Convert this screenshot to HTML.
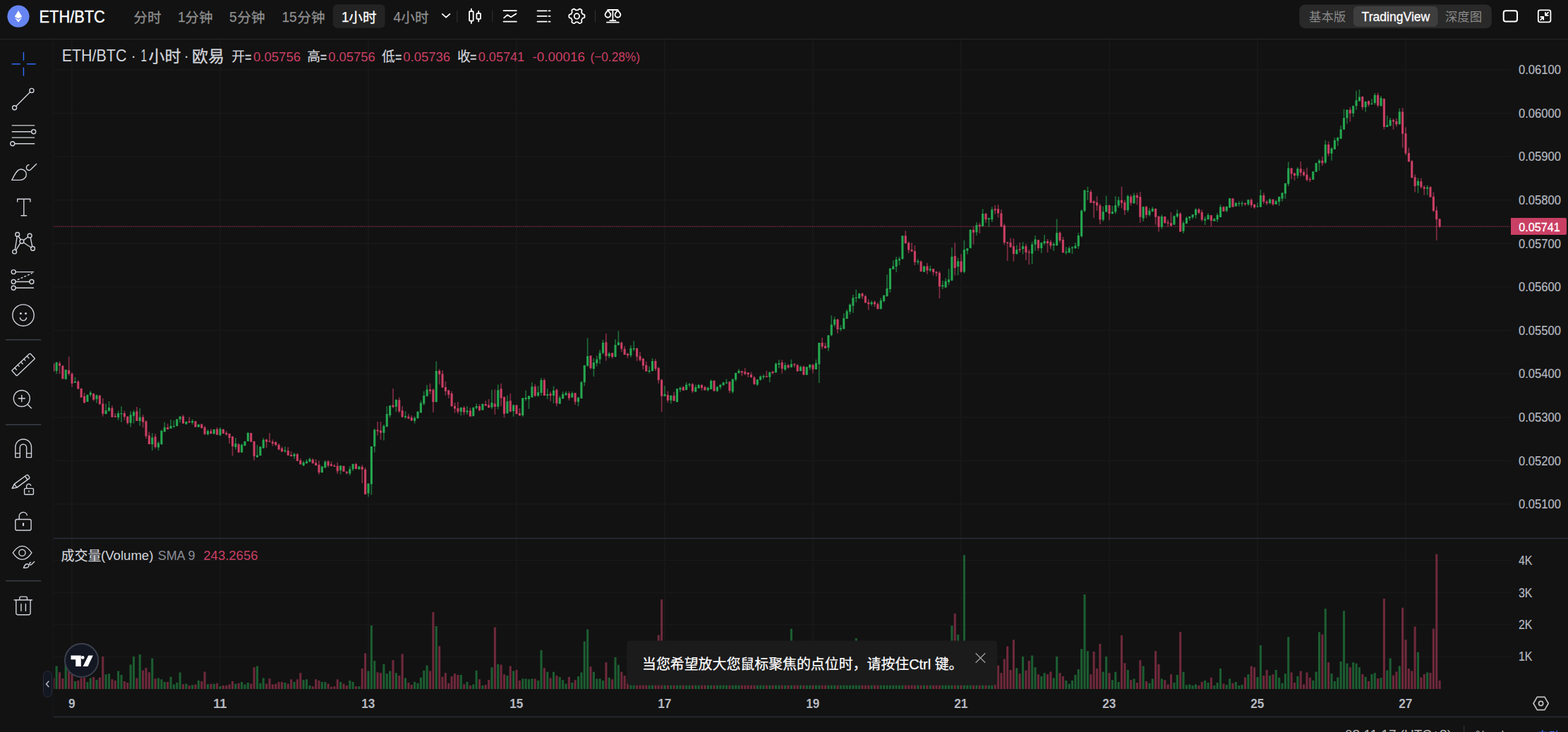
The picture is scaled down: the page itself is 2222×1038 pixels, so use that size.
<!DOCTYPE html>
<html lang="zh"><head><meta charset="utf-8"><title>ETH/BTC</title>
<style>
html,body{margin:0;padding:0;background:#121212;overflow:hidden}
body{width:2222px;height:1038px;position:relative}
svg{position:absolute;left:0;top:0;display:block}
svg text{font-family:"Liberation Sans","Noto Sans CJK SC",sans-serif;white-space:pre}
</style></head><body>
<svg width="2222" height="1038" viewBox="0 0 2222 1038" role="img" aria-label="ETH/BTC 1小时 TradingView chart">
<rect width="2222" height="1038" fill="#121212"/>
<rect x="75.5" y="714.30" width="2065.5" height="1.2" fill="#1b1b1b"/>
<rect x="75.5" y="652.70" width="2065.5" height="1.2" fill="#1b1b1b"/>
<rect x="75.5" y="591.10" width="2065.5" height="1.2" fill="#1b1b1b"/>
<rect x="75.5" y="529.50" width="2065.5" height="1.2" fill="#1b1b1b"/>
<rect x="75.5" y="467.90" width="2065.5" height="1.2" fill="#1b1b1b"/>
<rect x="75.5" y="406.30" width="2065.5" height="1.2" fill="#1b1b1b"/>
<rect x="75.5" y="344.70" width="2065.5" height="1.2" fill="#1b1b1b"/>
<rect x="75.5" y="283.10" width="2065.5" height="1.2" fill="#1b1b1b"/>
<rect x="75.5" y="221.50" width="2065.5" height="1.2" fill="#1b1b1b"/>
<rect x="75.5" y="159.90" width="2065.5" height="1.2" fill="#1b1b1b"/>
<rect x="75.5" y="98.30" width="2065.5" height="1.2" fill="#1b1b1b"/>
<rect x="75.5" y="793.90" width="2065.5" height="1.2" fill="#1b1b1b"/>
<rect x="75.5" y="839.70" width="2065.5" height="1.2" fill="#1b1b1b"/>
<rect x="75.5" y="885.10" width="2065.5" height="1.2" fill="#1b1b1b"/>
<rect x="75.5" y="930.60" width="2065.5" height="1.2" fill="#1b1b1b"/>
<rect x="100.9" y="56" width="2" height="706" fill="#181818"/>
<rect x="100.9" y="764" width="2" height="214" fill="#181818"/>
<rect x="310.9" y="56" width="2" height="706" fill="#181818"/>
<rect x="310.9" y="764" width="2" height="214" fill="#181818"/>
<rect x="520.9" y="56" width="2" height="706" fill="#181818"/>
<rect x="520.9" y="764" width="2" height="214" fill="#181818"/>
<rect x="730.9" y="56" width="2" height="706" fill="#181818"/>
<rect x="730.9" y="764" width="2" height="214" fill="#181818"/>
<rect x="940.9" y="56" width="2" height="706" fill="#181818"/>
<rect x="940.9" y="764" width="2" height="214" fill="#181818"/>
<rect x="1150.9" y="56" width="2" height="706" fill="#181818"/>
<rect x="1150.9" y="764" width="2" height="214" fill="#181818"/>
<rect x="1360.9" y="56" width="2" height="706" fill="#181818"/>
<rect x="1360.9" y="764" width="2" height="214" fill="#181818"/>
<rect x="1570.9" y="56" width="2" height="706" fill="#181818"/>
<rect x="1570.9" y="764" width="2" height="214" fill="#181818"/>
<rect x="1780.9" y="56" width="2" height="706" fill="#181818"/>
<rect x="1780.9" y="764" width="2" height="214" fill="#181818"/>
<rect x="1990.9" y="56" width="2" height="706" fill="#181818"/>
<rect x="1990.9" y="764" width="2" height="214" fill="#181818"/>
<line x1="75.5" y1="321.2" x2="2139" y2="321.2" stroke="#ca3f64" stroke-width="1.5" stroke-dasharray="1.5 1.25" opacity="0.55"/>
<clipPath id="pane"><rect x="75.5" y="56" width="2065.5" height="925"/></clipPath>
<g clip-path="url(#pane)">
<path d="M78.58 944.4h3.1V977h-3.1zM91.70 940.8h3.1V977h-3.1zM104.83 966.1h3.1V977h-3.1zM122.33 967.2h3.1V977h-3.1zM126.70 961.5h3.1V977h-3.1zM135.45 964.1h3.1V977h-3.1zM148.57 956.3h3.1V977h-3.1zM152.95 955.3h3.1V977h-3.1zM166.07 951.6h3.1V977h-3.1zM170.45 957.1h3.1V977h-3.1zM183.57 942.5h3.1V977h-3.1zM187.95 930.9h3.1V977h-3.1zM196.70 928.0h3.1V977h-3.1zM214.20 933.5h3.1V977h-3.1zM222.95 961.5h3.1V977h-3.1zM227.32 963.2h3.1V977h-3.1zM231.70 967.0h3.1V977h-3.1zM240.45 959.7h3.1V977h-3.1zM244.82 970.5h3.1V977h-3.1zM249.20 968.0h3.1V977h-3.1zM253.57 953.5h3.1V977h-3.1zM262.32 969.4h3.1V977h-3.1zM271.07 971.3h3.1V977h-3.1zM279.82 965.1h3.1V977h-3.1zM292.95 970.3h3.1V977h-3.1zM301.70 969.8h3.1V977h-3.1zM310.45 973.2h3.1V977h-3.1zM332.32 969.8h3.1V977h-3.1zM341.07 967.0h3.1V977h-3.1zM345.45 970.5h3.1V977h-3.1zM349.82 968.0h3.1V977h-3.1zM362.95 944.4h3.1V977h-3.1zM367.32 968.7h3.1V977h-3.1zM371.70 961.5h3.1V977h-3.1zM402.32 968.0h3.1V977h-3.1zM415.45 967.0h3.1V977h-3.1zM428.57 964.1h3.1V977h-3.1zM432.95 963.2h3.1V977h-3.1zM437.32 972.1h3.1V977h-3.1zM454.82 967.0h3.1V977h-3.1zM459.20 967.0h3.1V977h-3.1zM481.07 967.0h3.1V977h-3.1zM494.20 965.1h3.1V977h-3.1zM498.57 967.0h3.1V977h-3.1zM507.32 973.2h3.1V977h-3.1zM520.45 951.6h3.1V977h-3.1zM524.83 886.9h3.1V977h-3.1zM529.20 937.1h3.1V977h-3.1zM542.33 941.8h3.1V977h-3.1zM546.70 955.3h3.1V977h-3.1zM551.08 951.6h3.1V977h-3.1zM559.83 954.2h3.1V977h-3.1zM572.95 961.5h3.1V977h-3.1zM586.08 967.0h3.1V977h-3.1zM590.45 968.7h3.1V977h-3.1zM594.83 960.7h3.1V977h-3.1zM599.20 950.8h3.1V977h-3.1zM603.58 943.4h3.1V977h-3.1zM616.70 888.0h3.1V977h-3.1zM651.70 957.1h3.1V977h-3.1zM660.45 967.0h3.1V977h-3.1zM669.20 970.5h3.1V977h-3.1zM673.58 950.8h3.1V977h-3.1zM682.33 972.1h3.1V977h-3.1zM695.45 946.3h3.1V977h-3.1zM704.20 941.8h3.1V977h-3.1zM717.33 958.1h3.1V977h-3.1zM726.08 951.6h3.1V977h-3.1zM739.20 962.5h3.1V977h-3.1zM743.58 962.5h3.1V977h-3.1zM747.95 963.2h3.1V977h-3.1zM752.33 962.5h3.1V977h-3.1zM761.08 965.1h3.1V977h-3.1zM765.45 922.1h3.1V977h-3.1zM774.20 952.7h3.1V977h-3.1zM782.95 952.7h3.1V977h-3.1zM791.70 959.9h3.1V977h-3.1zM796.08 964.3h3.1V977h-3.1zM800.45 969.4h3.1V977h-3.1zM809.20 968.0h3.1V977h-3.1zM817.95 959.1h3.1V977h-3.1zM822.33 953.5h3.1V977h-3.1zM826.70 909.4h3.1V977h-3.1zM831.08 892.4h3.1V977h-3.1zM839.83 952.7h3.1V977h-3.1zM844.20 962.5h3.1V977h-3.1zM848.58 962.5h3.1V977h-3.1zM852.95 965.1h3.1V977h-3.1zM861.70 960.7h3.1V977h-3.1zM870.45 932.0h3.1V977h-3.1zM874.83 942.8h3.1V977h-3.1zM892.33 956.8h3.1V977h-3.1zM896.70 965.1h3.1V977h-3.1zM918.58 963.0h3.1V977h-3.1zM922.95 946.5h3.1V977h-3.1zM940.45 946.5h3.1V977h-3.1zM949.20 962.0h3.1V977h-3.1zM957.95 958.9h3.1V977h-3.1zM962.33 967.2h3.1V977h-3.1zM971.08 951.2h3.1V977h-3.1zM975.45 948.4h3.1V977h-3.1zM984.20 965.5h3.1V977h-3.1zM988.58 965.4h3.1V977h-3.1zM1001.70 961.6h3.1V977h-3.1zM1006.08 950.8h3.1V977h-3.1zM1014.83 959.5h3.1V977h-3.1zM1019.20 929.2h3.1V977h-3.1zM1023.58 930.7h3.1V977h-3.1zM1027.95 965.1h3.1V977h-3.1zM1036.70 963.8h3.1V977h-3.1zM1041.08 962.8h3.1V977h-3.1zM1045.45 931.8h3.1V977h-3.1zM1071.70 960.0h3.1V977h-3.1zM1076.08 939.3h3.1V977h-3.1zM1080.45 953.1h3.1V977h-3.1zM1089.20 958.8h3.1V977h-3.1zM1097.95 956.9h3.1V977h-3.1zM1102.33 952.1h3.1V977h-3.1zM1111.08 966.5h3.1V977h-3.1zM1119.83 891.5h3.1V977h-3.1zM1132.95 938.7h3.1V977h-3.1zM1141.70 952.6h3.1V977h-3.1zM1146.08 929.8h3.1V977h-3.1zM1154.83 957.1h3.1V977h-3.1zM1159.20 924.7h3.1V977h-3.1zM1172.33 956.1h3.1V977h-3.1zM1176.70 923.6h3.1V977h-3.1zM1181.08 945.6h3.1V977h-3.1zM1189.83 968.1h3.1V977h-3.1zM1194.20 958.5h3.1V977h-3.1zM1198.58 960.4h3.1V977h-3.1zM1202.95 946.7h3.1V977h-3.1zM1207.33 945.4h3.1V977h-3.1zM1211.70 905.1h3.1V977h-3.1zM1216.08 947.5h3.1V977h-3.1zM1233.58 964.7h3.1V977h-3.1zM1246.70 932.3h3.1V977h-3.1zM1251.08 959.0h3.1V977h-3.1zM1255.45 948.9h3.1V977h-3.1zM1259.83 930.7h3.1V977h-3.1zM1264.20 962.2h3.1V977h-3.1zM1268.58 937.2h3.1V977h-3.1zM1272.95 922.3h3.1V977h-3.1zM1277.33 967.2h3.1V977h-3.1zM1299.20 961.7h3.1V977h-3.1zM1307.95 965.6h3.1V977h-3.1zM1316.70 932.4h3.1V977h-3.1zM1334.20 962.5h3.1V977h-3.1zM1338.58 952.6h3.1V977h-3.1zM1342.95 946.5h3.1V977h-3.1zM1347.33 887.2h3.1V977h-3.1zM1356.08 899.8h3.1V977h-3.1zM1364.83 787.0h3.1V977h-3.1zM1369.20 962.9h3.1V977h-3.1zM1373.58 958.2h3.1V977h-3.1zM1382.33 937.3h3.1V977h-3.1zM1391.08 921.5h3.1V977h-3.1zM1399.83 963.6h3.1V977h-3.1zM1404.20 959.9h3.1V977h-3.1zM1439.20 947.3h3.1V977h-3.1zM1447.95 931.1h3.1V977h-3.1zM1461.08 929.4h3.1V977h-3.1zM1465.45 946.3h3.1V977h-3.1zM1474.20 959.1h3.1V977h-3.1zM1478.58 954.2h3.1V977h-3.1zM1491.70 961.5h3.1V977h-3.1zM1496.08 931.1h3.1V977h-3.1zM1509.20 965.1h3.1V977h-3.1zM1513.58 969.8h3.1V977h-3.1zM1517.95 965.1h3.1V977h-3.1zM1522.33 957.1h3.1V977h-3.1zM1526.70 949.0h3.1V977h-3.1zM1531.08 920.3h3.1V977h-3.1zM1535.45 842.9h3.1V977h-3.1zM1539.83 923.2h3.1V977h-3.1zM1561.70 952.7h3.1V977h-3.1zM1566.08 931.1h3.1V977h-3.1zM1574.83 964.3h3.1V977h-3.1zM1579.20 952.7h3.1V977h-3.1zM1583.58 967.0h3.1V977h-3.1zM1596.70 950.1h3.1V977h-3.1zM1605.45 962.5h3.1V977h-3.1zM1618.58 944.4h3.1V977h-3.1zM1627.33 968.7h3.1V977h-3.1zM1631.70 962.5h3.1V977h-3.1zM1644.83 962.5h3.1V977h-3.1zM1662.33 968.0h3.1V977h-3.1zM1666.70 957.1h3.1V977h-3.1zM1675.45 952.7h3.1V977h-3.1zM1679.83 971.3h3.1V977h-3.1zM1684.20 970.5h3.1V977h-3.1zM1688.58 972.1h3.1V977h-3.1zM1692.95 970.5h3.1V977h-3.1zM1706.08 965.1h3.1V977h-3.1zM1710.45 968.0h3.1V977h-3.1zM1719.20 972.1h3.1V977h-3.1zM1723.58 968.0h3.1V977h-3.1zM1727.95 948.0h3.1V977h-3.1zM1736.70 971.1h3.1V977h-3.1zM1741.08 962.5h3.1V977h-3.1zM1749.83 967.0h3.1V977h-3.1zM1754.20 972.1h3.1V977h-3.1zM1758.58 971.1h3.1V977h-3.1zM1767.33 956.3h3.1V977h-3.1zM1780.45 959.9h3.1V977h-3.1zM1784.83 914.9h3.1V977h-3.1zM1797.95 958.1h3.1V977h-3.1zM1806.70 950.1h3.1V977h-3.1zM1811.08 960.7h3.1V977h-3.1zM1815.45 968.7h3.1V977h-3.1zM1819.83 955.3h3.1V977h-3.1zM1824.20 903.2h3.1V977h-3.1zM1837.33 959.1h3.1V977h-3.1zM1859.20 965.0h3.1V977h-3.1zM1863.58 952.4h3.1V977h-3.1zM1867.95 896.2h3.1V977h-3.1zM1876.70 863.3h3.1V977h-3.1zM1885.45 955.3h3.1V977h-3.1zM1889.83 966.0h3.1V977h-3.1zM1894.20 960.5h3.1V977h-3.1zM1898.58 937.9h3.1V977h-3.1zM1902.95 866.2h3.1V977h-3.1zM1907.33 940.8h3.1V977h-3.1zM1916.08 939.2h3.1V977h-3.1zM1920.45 940.8h3.1V977h-3.1zM1924.83 946.2h3.1V977h-3.1zM1933.58 959.8h3.1V977h-3.1zM1942.33 955.9h3.1V977h-3.1zM1946.70 954.3h3.1V977h-3.1zM1955.45 961.1h3.1V977h-3.1zM1964.20 950.5h3.1V977h-3.1zM1968.58 933.6h3.1V977h-3.1zM1981.70 944.3h3.1V977h-3.1zM2007.95 924.7h3.1V977h-3.1zM2021.08 953.4h3.1V977h-3.1z" fill="#25a750" opacity="0.5"/>
<path d="M74.20 961.5h3.1V977h-3.1zM82.95 953.2h3.1V977h-3.1zM87.33 962.0h3.1V977h-3.1zM96.08 951.6h3.1V977h-3.1zM100.45 955.8h3.1V977h-3.1zM109.20 965.1h3.1V977h-3.1zM113.58 961.5h3.1V977h-3.1zM117.95 961.0h3.1V977h-3.1zM131.07 959.9h3.1V977h-3.1zM139.82 960.7h3.1V977h-3.1zM144.20 930.9h3.1V977h-3.1zM157.32 963.2h3.1V977h-3.1zM161.70 965.1h3.1V977h-3.1zM174.82 966.1h3.1V977h-3.1zM179.20 968.0h3.1V977h-3.1zM192.32 961.5h3.1V977h-3.1zM201.07 950.6h3.1V977h-3.1zM205.45 947.0h3.1V977h-3.1zM209.82 953.2h3.1V977h-3.1zM218.57 962.2h3.1V977h-3.1zM236.07 967.0h3.1V977h-3.1zM257.95 970.3h3.1V977h-3.1zM266.70 972.1h3.1V977h-3.1zM275.45 970.5h3.1V977h-3.1zM284.20 965.9h3.1V977h-3.1zM288.57 952.5h3.1V977h-3.1zM297.32 969.8h3.1V977h-3.1zM306.07 968.7h3.1V977h-3.1zM314.82 972.1h3.1V977h-3.1zM319.20 972.1h3.1V977h-3.1zM323.57 970.5h3.1V977h-3.1zM327.95 966.1h3.1V977h-3.1zM336.70 968.7h3.1V977h-3.1zM354.20 969.4h3.1V977h-3.1zM358.57 946.3h3.1V977h-3.1zM376.07 969.4h3.1V977h-3.1zM380.45 962.2h3.1V977h-3.1zM384.82 970.5h3.1V977h-3.1zM389.20 969.8h3.1V977h-3.1zM393.57 967.0h3.1V977h-3.1zM397.95 967.0h3.1V977h-3.1zM406.70 969.4h3.1V977h-3.1zM411.07 963.2h3.1V977h-3.1zM419.82 963.2h3.1V977h-3.1zM424.20 954.2h3.1V977h-3.1zM441.70 973.2h3.1V977h-3.1zM446.07 963.2h3.1V977h-3.1zM450.45 965.1h3.1V977h-3.1zM463.57 969.4h3.1V977h-3.1zM467.95 973.9h3.1V977h-3.1zM472.32 973.2h3.1V977h-3.1zM476.70 963.2h3.1V977h-3.1zM485.45 969.4h3.1V977h-3.1zM489.82 972.1h3.1V977h-3.1zM502.95 973.2h3.1V977h-3.1zM511.70 948.0h3.1V977h-3.1zM516.08 926.3h3.1V977h-3.1zM533.58 953.2h3.1V977h-3.1zM537.95 954.2h3.1V977h-3.1zM555.45 936.1h3.1V977h-3.1zM564.20 958.1h3.1V977h-3.1zM568.58 927.3h3.1V977h-3.1zM577.33 968.0h3.1V977h-3.1zM581.70 971.1h3.1V977h-3.1zM607.95 951.6h3.1V977h-3.1zM612.33 868.0h3.1V977h-3.1zM621.08 916.2h3.1V977h-3.1zM625.45 959.7h3.1V977h-3.1zM629.83 954.2h3.1V977h-3.1zM634.20 968.7h3.1V977h-3.1zM638.58 958.9h3.1V977h-3.1zM642.95 955.3h3.1V977h-3.1zM647.33 957.1h3.1V977h-3.1zM656.08 970.3h3.1V977h-3.1zM664.83 972.1h3.1V977h-3.1zM677.95 963.2h3.1V977h-3.1zM686.70 971.1h3.1V977h-3.1zM691.08 964.1h3.1V977h-3.1zM699.83 889.5h3.1V977h-3.1zM708.58 942.5h3.1V977h-3.1zM712.95 956.3h3.1V977h-3.1zM721.70 944.4h3.1V977h-3.1zM730.45 950.1h3.1V977h-3.1zM734.83 965.1h3.1V977h-3.1zM756.70 962.5h3.1V977h-3.1zM769.83 947.3h3.1V977h-3.1zM778.58 961.5h3.1V977h-3.1zM787.33 958.1h3.1V977h-3.1zM804.83 959.9h3.1V977h-3.1zM813.58 964.3h3.1V977h-3.1zM835.45 945.2h3.1V977h-3.1zM857.33 939.2h3.1V977h-3.1zM866.08 963.2h3.1V977h-3.1zM879.20 952.7h3.1V977h-3.1zM883.58 958.1h3.1V977h-3.1zM887.95 962.0h3.1V977h-3.1zM901.08 967.2h3.1V977h-3.1zM905.45 964.1h3.1V977h-3.1zM909.83 962.0h3.1V977h-3.1zM914.20 956.8h3.1V977h-3.1zM927.33 962.0h3.1V977h-3.1zM931.70 900.4h3.1V977h-3.1zM936.08 850.0h3.1V977h-3.1zM944.83 956.8h3.1V977h-3.1zM953.58 965.1h3.1V977h-3.1zM966.70 968.2h3.1V977h-3.1zM979.83 963.7h3.1V977h-3.1zM992.95 961.9h3.1V977h-3.1zM997.33 949.3h3.1V977h-3.1zM1010.45 932.5h3.1V977h-3.1zM1032.33 966.8h3.1V977h-3.1zM1049.83 924.3h3.1V977h-3.1zM1054.20 930.7h3.1V977h-3.1zM1058.58 960.5h3.1V977h-3.1zM1062.95 938.2h3.1V977h-3.1zM1067.33 932.8h3.1V977h-3.1zM1084.83 945.6h3.1V977h-3.1zM1093.58 961.7h3.1V977h-3.1zM1106.70 956.6h3.1V977h-3.1zM1115.45 950.3h3.1V977h-3.1zM1124.20 945.3h3.1V977h-3.1zM1128.58 924.7h3.1V977h-3.1zM1137.33 953.6h3.1V977h-3.1zM1150.45 963.6h3.1V977h-3.1zM1163.58 956.4h3.1V977h-3.1zM1167.95 921.7h3.1V977h-3.1zM1185.45 932.5h3.1V977h-3.1zM1220.45 956.2h3.1V977h-3.1zM1224.83 952.3h3.1V977h-3.1zM1229.20 947.2h3.1V977h-3.1zM1237.95 964.1h3.1V977h-3.1zM1242.33 962.0h3.1V977h-3.1zM1281.70 921.8h3.1V977h-3.1zM1286.08 949.4h3.1V977h-3.1zM1290.45 950.6h3.1V977h-3.1zM1294.83 923.4h3.1V977h-3.1zM1303.58 960.2h3.1V977h-3.1zM1312.33 968.6h3.1V977h-3.1zM1321.08 963.2h3.1V977h-3.1zM1325.45 932.9h3.1V977h-3.1zM1329.83 959.5h3.1V977h-3.1zM1351.70 870.1h3.1V977h-3.1zM1360.45 964.0h3.1V977h-3.1zM1377.95 939.6h3.1V977h-3.1zM1386.70 939.8h3.1V977h-3.1zM1395.45 956.9h3.1V977h-3.1zM1408.58 939.7h3.1V977h-3.1zM1412.95 943.4h3.1V977h-3.1zM1417.33 954.2h3.1V977h-3.1zM1421.70 934.6h3.1V977h-3.1zM1426.08 916.4h3.1V977h-3.1zM1430.45 950.1h3.1V977h-3.1zM1434.83 907.3h3.1V977h-3.1zM1443.58 955.3h3.1V977h-3.1zM1452.33 950.8h3.1V977h-3.1zM1456.70 937.1h3.1V977h-3.1zM1469.83 956.3h3.1V977h-3.1zM1482.95 956.3h3.1V977h-3.1zM1487.33 952.5h3.1V977h-3.1zM1500.45 954.2h3.1V977h-3.1zM1504.83 959.1h3.1V977h-3.1zM1544.20 956.3h3.1V977h-3.1zM1548.58 924.0h3.1V977h-3.1zM1552.95 948.0h3.1V977h-3.1zM1557.33 913.1h3.1V977h-3.1zM1570.45 954.2h3.1V977h-3.1zM1587.95 901.1h3.1V977h-3.1zM1592.33 940.3h3.1V977h-3.1zM1601.08 964.3h3.1V977h-3.1zM1609.83 968.0h3.1V977h-3.1zM1614.20 936.3h3.1V977h-3.1zM1622.95 966.1h3.1V977h-3.1zM1636.08 923.2h3.1V977h-3.1zM1640.45 942.1h3.1V977h-3.1zM1649.20 964.3h3.1V977h-3.1zM1653.58 970.5h3.1V977h-3.1zM1657.95 956.3h3.1V977h-3.1zM1671.08 895.9h3.1V977h-3.1zM1697.33 972.1h3.1V977h-3.1zM1701.70 967.0h3.1V977h-3.1zM1714.83 960.7h3.1V977h-3.1zM1732.33 969.4h3.1V977h-3.1zM1745.45 968.7h3.1V977h-3.1zM1762.95 960.4h3.1V977h-3.1zM1771.70 944.4h3.1V977h-3.1zM1776.08 946.3h3.1V977h-3.1zM1789.20 958.1h3.1V977h-3.1zM1793.58 950.1h3.1V977h-3.1zM1802.33 956.3h3.1V977h-3.1zM1828.58 953.5h3.1V977h-3.1zM1832.95 968.0h3.1V977h-3.1zM1841.70 951.6h3.1V977h-3.1zM1846.08 970.5h3.1V977h-3.1zM1850.45 953.5h3.1V977h-3.1zM1854.83 960.7h3.1V977h-3.1zM1872.33 899.5h3.1V977h-3.1zM1881.08 939.2h3.1V977h-3.1zM1911.70 946.2h3.1V977h-3.1zM1929.20 955.9h3.1V977h-3.1zM1937.95 966.0h3.1V977h-3.1zM1951.08 962.1h3.1V977h-3.1zM1959.83 849.1h3.1V977h-3.1zM1972.95 957.8h3.1V977h-3.1zM1977.33 952.4h3.1V977h-3.1zM1986.08 861.7h3.1V977h-3.1zM1990.45 907.3h3.1V977h-3.1zM1994.83 948.1h3.1V977h-3.1zM1999.20 951.4h3.1V977h-3.1zM2003.58 888.5h3.1V977h-3.1zM2012.33 960.5h3.1V977h-3.1zM2016.70 955.9h3.1V977h-3.1zM2025.45 953.9h3.1V977h-3.1zM2029.83 891.4h3.1V977h-3.1zM2034.20 785.8h3.1V977h-3.1zM2038.58 965.0h3.1V977h-3.1z" fill="#ca3f64" opacity="0.5"/>
<path d="M79.28 513.1h1.7V530.0h-1.7zM92.40 523.9h1.7V538.6h-1.7zM105.53 534.7h1.7V542.7h-1.7zM123.03 559.3h1.7V569.7h-1.7zM127.40 554.2h1.7V562.6h-1.7zM136.15 559.3h1.7V571.6h-1.7zM149.28 572.6h1.7V587.5h-1.7zM153.65 569.0h1.7V583.4h-1.7zM166.78 582.4h1.7V595.7h-1.7zM171.15 576.2h1.7V598.6h-1.7zM184.28 583.2h1.7V605.5h-1.7zM188.65 581.4h1.7V600.5h-1.7zM197.40 578.8h1.7V603.7h-1.7zM214.90 614.2h1.7V638.8h-1.7zM223.65 625.8h1.7V638.8h-1.7zM228.03 609.6h1.7V630.8h-1.7zM232.40 598.8h1.7V612.8h-1.7zM241.15 595.0h1.7V608.0h-1.7zM245.53 596.2h1.7V606.6h-1.7zM249.90 594.0h1.7V604.8h-1.7zM254.28 590.1h1.7V599.3h-1.7zM263.02 597.3h1.7V601.9h-1.7zM271.77 594.4h1.7V601.9h-1.7zM280.52 601.2h1.7V606.0h-1.7zM293.65 608.9h1.7V617.5h-1.7zM302.40 608.6h1.7V615.7h-1.7zM311.15 606.1h1.7V618.6h-1.7zM333.02 621.1h1.7V637.4h-1.7zM341.77 629.1h1.7V642.0h-1.7zM346.15 625.3h1.7V632.6h-1.7zM350.52 613.2h1.7V626.1h-1.7zM363.65 631.1h1.7V648.9h-1.7zM368.02 632.9h1.7V646.4h-1.7zM372.40 621.1h1.7V635.7h-1.7zM403.02 633.2h1.7V642.0h-1.7zM416.15 642.0h1.7V650.8h-1.7zM429.27 653.7h1.7V660.8h-1.7zM433.65 651.2h1.7V657.7h-1.7zM438.02 648.9h1.7V655.4h-1.7zM455.52 660.8h1.7V670.4h-1.7zM459.90 652.7h1.7V664.6h-1.7zM481.77 659.9h1.7V672.4h-1.7zM494.90 661.2h1.7V674.2h-1.7zM499.27 657.4h1.7V667.7h-1.7zM508.02 660.8h1.7V665.8h-1.7zM521.15 685.2h1.7V704.6h-1.7zM525.52 633.1h1.7V701.7h-1.7zM529.90 607.7h1.7V641.5h-1.7zM543.02 602.1h1.7V624.6h-1.7zM547.40 576.1h1.7V605.8h-1.7zM551.77 574.4h1.7V592.3h-1.7zM560.52 566.0h1.7V584.2h-1.7zM573.65 583.3h1.7V594.0h-1.7zM586.77 590.4h1.7V600.6h-1.7zM591.15 582.9h1.7V594.0h-1.7zM595.52 568.2h1.7V585.5h-1.7zM599.90 554.7h1.7V574.8h-1.7zM604.27 545.7h1.7V562.6h-1.7zM617.40 512.3h1.7V570.5h-1.7zM652.40 577.3h1.7V589.3h-1.7zM661.15 576.1h1.7V588.0h-1.7zM669.90 577.3h1.7V590.4h-1.7zM674.27 572.4h1.7V580.5h-1.7zM683.02 572.0h1.7V581.8h-1.7zM696.15 552.8h1.7V579.9h-1.7zM704.90 545.3h1.7V580.5h-1.7zM718.02 560.7h1.7V586.7h-1.7zM726.77 573.5h1.7V590.8h-1.7zM739.90 564.1h1.7V590.8h-1.7zM744.27 553.6h1.7V568.6h-1.7zM748.65 561.0h1.7V579.8h-1.7zM753.02 542.2h1.7V563.7h-1.7zM761.77 547.2h1.7V562.8h-1.7zM766.15 535.9h1.7V561.0h-1.7zM774.90 551.2h1.7V566.0h-1.7zM783.65 547.4h1.7V572.0h-1.7zM792.40 561.2h1.7V572.9h-1.7zM796.77 555.3h1.7V565.7h-1.7zM801.15 554.7h1.7V561.0h-1.7zM809.90 555.3h1.7V564.1h-1.7zM818.65 562.5h1.7V576.0h-1.7zM823.02 540.3h1.7V565.3h-1.7zM827.40 517.7h1.7V547.2h-1.7zM831.77 479.3h1.7V520.2h-1.7zM840.52 508.1h1.7V534.0h-1.7zM844.90 504.3h1.7V519.4h-1.7zM849.27 496.1h1.7V515.9h-1.7zM853.65 481.8h1.7V502.7h-1.7zM862.40 499.3h1.7V507.7h-1.7zM871.15 481.0h1.7V506.8h-1.7zM875.52 469.3h1.7V489.8h-1.7zM893.02 489.8h1.7V506.8h-1.7zM897.40 483.5h1.7V498.1h-1.7zM919.27 519.6h1.7V529.3h-1.7zM923.65 508.1h1.7V526.5h-1.7zM941.15 547.2h1.7V562.2h-1.7zM949.90 560.3h1.7V572.5h-1.7zM958.65 550.7h1.7V570.4h-1.7zM963.02 548.2h1.7V555.9h-1.7zM971.77 542.0h1.7V553.3h-1.7zM976.15 542.9h1.7V549.1h-1.7zM984.90 545.4h1.7V556.0h-1.7zM989.27 544.5h1.7V551.0h-1.7zM1002.40 548.2h1.7V554.8h-1.7zM1006.77 538.2h1.7V552.3h-1.7zM1015.52 547.2h1.7V555.8h-1.7zM1019.90 544.7h1.7V552.3h-1.7zM1024.28 541.6h1.7V546.6h-1.7zM1028.65 537.5h1.7V544.5h-1.7zM1037.40 537.0h1.7V557.9h-1.7zM1041.78 528.2h1.7V541.0h-1.7zM1046.15 523.2h1.7V529.7h-1.7zM1072.40 537.8h1.7V547.2h-1.7zM1076.78 532.2h1.7V539.5h-1.7zM1081.15 531.0h1.7V537.5h-1.7zM1089.90 527.2h1.7V542.0h-1.7zM1098.65 514.0h1.7V528.7h-1.7zM1103.03 510.3h1.7V521.9h-1.7zM1111.78 514.0h1.7V525.9h-1.7zM1120.53 509.7h1.7V521.2h-1.7zM1133.65 518.4h1.7V526.6h-1.7zM1142.40 519.7h1.7V532.0h-1.7zM1146.78 516.2h1.7V524.7h-1.7zM1155.53 509.7h1.7V524.1h-1.7zM1159.90 486.1h1.7V542.9h-1.7zM1173.03 475.2h1.7V497.8h-1.7zM1177.40 447.3h1.7V476.8h-1.7zM1181.78 449.3h1.7V463.6h-1.7zM1190.53 461.1h1.7V469.8h-1.7zM1194.90 444.3h1.7V466.9h-1.7zM1199.28 438.7h1.7V452.2h-1.7zM1203.65 430.6h1.7V445.7h-1.7zM1208.03 418.0h1.7V443.8h-1.7zM1212.40 410.5h1.7V428.7h-1.7zM1216.78 415.6h1.7V423.7h-1.7zM1234.28 426.3h1.7V433.8h-1.7zM1247.40 422.5h1.7V438.7h-1.7zM1251.78 418.4h1.7V428.7h-1.7zM1256.15 389.3h1.7V420.7h-1.7zM1260.53 379.9h1.7V414.7h-1.7zM1264.90 369.2h1.7V382.3h-1.7zM1269.28 363.9h1.7V386.1h-1.7zM1273.65 363.9h1.7V376.1h-1.7zM1278.03 334.2h1.7V367.7h-1.7zM1299.90 367.3h1.7V375.2h-1.7zM1308.65 377.1h1.7V386.1h-1.7zM1317.40 376.7h1.7V385.5h-1.7zM1334.90 398.1h1.7V410.0h-1.7zM1339.28 394.4h1.7V408.6h-1.7zM1343.65 381.2h1.7V404.3h-1.7zM1348.03 351.1h1.7V398.7h-1.7zM1356.78 365.8h1.7V390.6h-1.7zM1365.53 340.4h1.7V387.4h-1.7zM1369.90 351.7h1.7V360.5h-1.7zM1374.28 324.8h1.7V352.3h-1.7zM1383.03 315.1h1.7V333.9h-1.7zM1391.78 296.3h1.7V321.1h-1.7zM1400.53 308.5h1.7V321.6h-1.7zM1404.90 293.5h1.7V315.1h-1.7zM1439.90 347.6h1.7V360.6h-1.7zM1448.65 343.3h1.7V360.6h-1.7zM1461.78 342.4h1.7V374.5h-1.7zM1466.15 334.1h1.7V355.7h-1.7zM1474.90 343.8h1.7V359.1h-1.7zM1479.28 333.1h1.7V347.6h-1.7zM1492.40 343.3h1.7V355.7h-1.7zM1496.78 310.6h1.7V348.7h-1.7zM1509.90 350.2h1.7V360.9h-1.7zM1514.28 349.3h1.7V358.8h-1.7zM1518.65 349.3h1.7V359.9h-1.7zM1523.03 344.1h1.7V352.8h-1.7zM1527.40 330.2h1.7V352.8h-1.7zM1531.78 297.3h1.7V336.8h-1.7zM1536.15 269.0h1.7V301.0h-1.7zM1540.53 264.7h1.7V283.7h-1.7zM1562.40 292.7h1.7V314.1h-1.7zM1566.78 277.4h1.7V301.0h-1.7zM1575.53 292.1h1.7V303.7h-1.7zM1579.90 278.2h1.7V303.3h-1.7zM1584.28 279.0h1.7V294.4h-1.7zM1597.40 276.3h1.7V300.8h-1.7zM1606.15 273.6h1.7V289.0h-1.7zM1619.28 292.7h1.7V314.1h-1.7zM1628.03 295.2h1.7V306.8h-1.7zM1632.40 293.3h1.7V300.5h-1.7zM1645.53 304.2h1.7V324.8h-1.7zM1663.03 305.6h1.7V318.9h-1.7zM1667.40 297.3h1.7V309.0h-1.7zM1676.15 313.4h1.7V331.1h-1.7zM1680.53 307.1h1.7V317.5h-1.7zM1684.90 306.8h1.7V313.1h-1.7zM1689.28 303.8h1.7V310.6h-1.7zM1693.65 295.1h1.7V309.7h-1.7zM1706.78 307.1h1.7V318.9h-1.7zM1711.15 302.3h1.7V311.5h-1.7zM1719.90 309.0h1.7V314.0h-1.7zM1724.28 302.3h1.7V314.8h-1.7zM1728.65 290.1h1.7V308.2h-1.7zM1737.40 292.0h1.7V300.9h-1.7zM1741.78 280.9h1.7V295.1h-1.7zM1750.53 286.3h1.7V292.7h-1.7zM1754.90 285.2h1.7V292.7h-1.7zM1759.28 285.2h1.7V292.7h-1.7zM1768.03 282.7h1.7V291.8h-1.7zM1781.15 287.4h1.7V293.8h-1.7zM1785.53 269.1h1.7V293.8h-1.7zM1798.65 281.3h1.7V289.8h-1.7zM1807.40 283.5h1.7V290.1h-1.7zM1811.78 278.7h1.7V291.8h-1.7zM1816.15 272.7h1.7V285.4h-1.7zM1820.53 259.4h1.7V281.8h-1.7zM1824.90 229.5h1.7V263.9h-1.7zM1838.03 237.0h1.7V253.0h-1.7zM1859.90 242.8h1.7V255.0h-1.7zM1864.28 230.8h1.7V244.0h-1.7zM1868.65 225.8h1.7V242.0h-1.7zM1877.40 198.9h1.7V232.2h-1.7zM1886.15 208.7h1.7V227.8h-1.7zM1890.53 195.2h1.7V211.9h-1.7zM1894.90 194.1h1.7V207.0h-1.7zM1899.28 178.0h1.7V197.1h-1.7zM1903.65 154.8h1.7V184.0h-1.7zM1908.03 155.3h1.7V175.5h-1.7zM1916.78 149.4h1.7V165.8h-1.7zM1921.15 128.8h1.7V156.1h-1.7zM1925.53 127.0h1.7V144.0h-1.7zM1934.28 143.6h1.7V158.4h-1.7zM1943.03 140.2h1.7V148.6h-1.7zM1947.40 132.1h1.7V148.6h-1.7zM1956.15 135.9h1.7V150.7h-1.7zM1964.90 163.8h1.7V180.4h-1.7zM1969.28 167.1h1.7V179.2h-1.7zM1982.40 153.7h1.7V176.6h-1.7zM2008.65 252.5h1.7V273.7h-1.7zM2021.78 262.5h1.7V276.7h-1.7z" fill="#25a750" opacity="0.6"/>
<path d="M74.90 513.8h1.7V526.8h-1.7zM83.65 512.3h1.7V530.0h-1.7zM88.03 518.1h1.7V537.6h-1.7zM96.78 505.8h1.7V532.6h-1.7zM101.15 527.9h1.7V548.8h-1.7zM109.90 539.1h1.7V551.6h-1.7zM114.28 550.6h1.7V564.1h-1.7zM118.65 557.1h1.7V572.3h-1.7zM131.78 557.4h1.7V568.7h-1.7zM140.53 560.3h1.7V573.8h-1.7zM144.90 564.7h1.7V590.4h-1.7zM158.03 575.2h1.7V592.1h-1.7zM162.40 586.0h1.7V591.5h-1.7zM175.53 582.4h1.7V595.7h-1.7zM179.90 590.1h1.7V601.9h-1.7zM193.03 577.1h1.7V596.9h-1.7zM201.78 588.2h1.7V606.6h-1.7zM206.15 596.2h1.7V621.9h-1.7zM210.53 612.3h1.7V630.1h-1.7zM219.28 614.9h1.7V636.3h-1.7zM236.78 600.8h1.7V609.2h-1.7zM258.65 588.2h1.7V600.8h-1.7zM267.40 591.5h1.7V599.8h-1.7zM276.15 596.9h1.7V606.0h-1.7zM284.90 600.8h1.7V607.4h-1.7zM289.27 604.1h1.7V616.4h-1.7zM298.02 608.0h1.7V615.2h-1.7zM306.77 606.1h1.7V617.0h-1.7zM315.52 608.2h1.7V615.1h-1.7zM319.90 611.3h1.7V617.6h-1.7zM324.27 614.8h1.7V629.1h-1.7zM328.65 618.6h1.7V646.4h-1.7zM337.40 628.2h1.7V642.0h-1.7zM354.90 613.8h1.7V627.0h-1.7zM359.27 625.3h1.7V652.7h-1.7zM376.77 622.6h1.7V634.9h-1.7zM381.15 614.1h1.7V627.0h-1.7zM385.52 623.2h1.7V632.6h-1.7zM389.90 625.7h1.7V632.6h-1.7zM394.27 629.1h1.7V638.2h-1.7zM398.65 633.2h1.7V640.8h-1.7zM407.40 634.1h1.7V646.1h-1.7zM411.77 640.1h1.7V647.4h-1.7zM420.52 642.6h1.7V653.9h-1.7zM424.90 650.1h1.7V658.9h-1.7zM442.40 650.1h1.7V657.4h-1.7zM446.77 651.2h1.7V660.2h-1.7zM451.15 653.3h1.7V672.7h-1.7zM464.27 652.7h1.7V662.7h-1.7zM468.65 654.5h1.7V661.2h-1.7zM473.02 658.3h1.7V662.0h-1.7zM477.40 655.4h1.7V671.7h-1.7zM486.15 660.8h1.7V668.9h-1.7zM490.52 668.3h1.7V672.7h-1.7zM503.65 656.2h1.7V665.2h-1.7zM512.40 659.2h1.7V685.0h-1.7zM516.77 662.7h1.7V701.3h-1.7zM534.27 597.9h1.7V617.5h-1.7zM538.65 597.9h1.7V623.7h-1.7zM556.15 551.0h1.7V578.6h-1.7zM564.90 563.6h1.7V585.5h-1.7zM569.27 576.1h1.7V592.3h-1.7zM578.02 587.0h1.7V594.2h-1.7zM582.40 588.9h1.7V596.8h-1.7zM608.65 543.8h1.7V558.9h-1.7zM613.02 551.0h1.7V584.8h-1.7zM621.77 523.2h1.7V545.3h-1.7zM626.15 525.0h1.7V549.8h-1.7zM630.52 541.0h1.7V560.7h-1.7zM634.90 552.8h1.7V564.9h-1.7zM639.27 554.7h1.7V576.7h-1.7zM643.65 571.1h1.7V585.5h-1.7zM648.02 570.1h1.7V586.7h-1.7zM656.77 576.1h1.7V588.5h-1.7zM665.52 578.0h1.7V590.8h-1.7zM678.65 572.9h1.7V583.3h-1.7zM687.40 568.2h1.7V575.8h-1.7zM691.77 566.0h1.7V578.6h-1.7zM700.52 552.3h1.7V588.0h-1.7zM709.27 543.8h1.7V575.8h-1.7zM713.65 562.2h1.7V592.3h-1.7zM722.40 557.9h1.7V584.2h-1.7zM731.15 573.9h1.7V587.4h-1.7zM735.52 579.1h1.7V589.9h-1.7zM757.40 544.7h1.7V562.8h-1.7zM770.52 536.5h1.7V561.2h-1.7zM779.27 555.3h1.7V568.7h-1.7zM788.02 551.2h1.7V576.0h-1.7zM805.52 554.7h1.7V567.8h-1.7zM814.27 557.0h1.7V574.1h-1.7zM836.15 504.0h1.7V523.8h-1.7zM858.02 473.0h1.7V511.5h-1.7zM866.77 500.2h1.7V508.6h-1.7zM879.90 484.3h1.7V499.0h-1.7zM884.27 490.8h1.7V503.3h-1.7zM888.65 500.2h1.7V507.7h-1.7zM901.77 493.3h1.7V512.1h-1.7zM906.15 499.0h1.7V512.7h-1.7zM910.52 507.7h1.7V524.0h-1.7zM914.90 512.4h1.7V526.9h-1.7zM928.02 509.0h1.7V525.9h-1.7zM932.40 520.2h1.7V543.7h-1.7zM936.77 537.2h1.7V584.1h-1.7zM945.52 554.7h1.7V571.0h-1.7zM954.27 555.7h1.7V569.1h-1.7zM967.40 547.2h1.7V554.1h-1.7zM980.52 542.9h1.7V557.3h-1.7zM993.65 545.4h1.7V554.1h-1.7zM998.02 547.2h1.7V553.8h-1.7zM1011.15 539.1h1.7V554.8h-1.7zM1033.03 540.7h1.7V557.3h-1.7zM1050.53 525.7h1.7V533.2h-1.7zM1054.90 521.9h1.7V532.0h-1.7zM1059.28 527.8h1.7V535.0h-1.7zM1063.65 527.5h1.7V535.7h-1.7zM1068.03 533.2h1.7V545.4h-1.7zM1085.53 525.7h1.7V535.0h-1.7zM1094.28 525.9h1.7V530.7h-1.7zM1107.40 510.3h1.7V529.5h-1.7zM1116.15 516.2h1.7V522.8h-1.7zM1124.90 514.9h1.7V520.9h-1.7zM1129.28 516.2h1.7V527.0h-1.7zM1138.03 518.4h1.7V532.0h-1.7zM1151.15 516.6h1.7V529.5h-1.7zM1164.28 479.0h1.7V495.0h-1.7zM1168.65 486.1h1.7V494.3h-1.7zM1186.15 452.0h1.7V472.7h-1.7zM1221.15 415.0h1.7V424.0h-1.7zM1225.53 418.0h1.7V429.7h-1.7zM1229.90 424.4h1.7V439.5h-1.7zM1238.65 426.3h1.7V435.3h-1.7zM1243.03 428.7h1.7V438.7h-1.7zM1282.40 327.3h1.7V345.5h-1.7zM1286.78 342.3h1.7V359.2h-1.7zM1291.15 344.2h1.7V357.3h-1.7zM1295.53 347.9h1.7V376.1h-1.7zM1304.28 369.2h1.7V385.5h-1.7zM1313.03 372.9h1.7V388.7h-1.7zM1321.78 380.8h1.7V390.6h-1.7zM1326.15 384.6h1.7V391.7h-1.7zM1330.53 384.6h1.7V423.1h-1.7zM1352.40 344.2h1.7V390.6h-1.7zM1361.15 360.2h1.7V386.8h-1.7zM1378.65 320.7h1.7V346.6h-1.7zM1387.40 316.0h1.7V331.0h-1.7zM1396.15 301.9h1.7V316.0h-1.7zM1409.28 291.0h1.7V303.8h-1.7zM1413.65 290.3h1.7V308.5h-1.7zM1418.03 297.3h1.7V322.1h-1.7zM1422.40 317.2h1.7V347.6h-1.7zM1426.78 343.0h1.7V369.9h-1.7zM1431.15 337.5h1.7V351.0h-1.7zM1435.53 338.3h1.7V370.7h-1.7zM1444.28 344.1h1.7V358.0h-1.7zM1453.03 346.1h1.7V369.0h-1.7zM1457.40 353.9h1.7V375.3h-1.7zM1470.53 340.1h1.7V355.7h-1.7zM1483.65 339.1h1.7V358.0h-1.7zM1488.03 340.3h1.7V353.0h-1.7zM1501.15 328.3h1.7V343.8h-1.7zM1505.53 336.0h1.7V358.6h-1.7zM1544.90 269.3h1.7V288.1h-1.7zM1549.28 284.6h1.7V308.9h-1.7zM1553.65 278.2h1.7V298.7h-1.7zM1558.03 289.0h1.7V317.9h-1.7zM1571.15 290.6h1.7V312.3h-1.7zM1588.65 264.7h1.7V295.2h-1.7zM1593.03 283.7h1.7V304.8h-1.7zM1601.78 276.3h1.7V291.5h-1.7zM1610.53 273.6h1.7V290.6h-1.7zM1614.90 272.1h1.7V315.8h-1.7zM1623.65 291.7h1.7V308.9h-1.7zM1636.78 295.2h1.7V318.7h-1.7zM1641.15 306.2h1.7V328.6h-1.7zM1649.90 306.8h1.7V316.7h-1.7zM1654.28 311.5h1.7V321.2h-1.7zM1658.65 300.9h1.7V321.2h-1.7zM1671.78 300.9h1.7V328.9h-1.7zM1698.03 295.1h1.7V303.4h-1.7zM1702.40 297.3h1.7V314.0h-1.7zM1715.53 305.1h1.7V321.2h-1.7zM1733.03 292.4h1.7V300.1h-1.7zM1746.15 280.9h1.7V293.8h-1.7zM1763.65 287.4h1.7V291.8h-1.7zM1772.40 281.3h1.7V294.6h-1.7zM1776.78 289.0h1.7V296.0h-1.7zM1789.90 273.5h1.7V289.0h-1.7zM1794.28 284.0h1.7V290.9h-1.7zM1803.03 282.4h1.7V291.8h-1.7zM1829.28 238.1h1.7V254.1h-1.7zM1833.65 244.7h1.7V255.8h-1.7zM1842.40 228.9h1.7V250.3h-1.7zM1846.78 240.3h1.7V250.3h-1.7zM1851.15 237.7h1.7V256.9h-1.7zM1855.53 251.0h1.7V258.3h-1.7zM1873.03 222.2h1.7V234.9h-1.7zM1881.78 200.6h1.7V221.4h-1.7zM1912.40 152.1h1.7V172.8h-1.7zM1929.90 136.4h1.7V155.7h-1.7zM1938.65 142.6h1.7V151.3h-1.7zM1951.78 131.5h1.7V152.1h-1.7zM1960.53 139.5h1.7V183.6h-1.7zM1973.65 168.2h1.7V183.4h-1.7zM1978.03 167.7h1.7V179.8h-1.7zM1986.78 152.9h1.7V209.5h-1.7zM1991.15 180.4h1.7V220.1h-1.7zM1995.53 209.5h1.7V229.6h-1.7zM1999.90 227.1h1.7V252.5h-1.7zM2004.28 247.6h1.7V272.4h-1.7zM2013.03 252.5h1.7V267.3h-1.7zM2017.40 263.1h1.7V276.7h-1.7zM2026.15 264.0h1.7V280.1h-1.7zM2030.53 272.4h1.7V300.6h-1.7zM2034.90 292.8h1.7V340.9h-1.7zM2039.28 310.2h1.7V322.9h-1.7z" fill="#ca3f64" opacity="0.6"/>
<path d="M78.58 514.1h3.1V526.1h-3.1zM91.70 524.3h3.1V537.6h-3.1zM104.83 541.0h3.1V542.7h-3.1zM122.33 560.0h3.1V569.7h-3.1zM126.70 556.8h3.1V559.7h-3.1zM135.45 560.8h3.1V566.1h-3.1zM148.57 582.1h3.1V587.1h-3.1zM152.95 578.1h3.1V582.7h-3.1zM166.07 586.0h3.1V592.1h-3.1zM170.45 586.0h3.1V587.2h-3.1zM183.57 588.2h3.1V599.8h-3.1zM187.95 584.2h3.1V589.7h-3.1zM196.70 591.5h3.1V596.9h-3.1zM214.20 620.4h3.1V630.1h-3.1zM222.95 628.2h3.1V634.5h-3.1zM227.32 611.0h3.1V630.1h-3.1zM231.70 606.0h3.1V612.3h-3.1zM240.45 604.1h3.1V607.7h-3.1zM244.82 604.1h3.1V605.3h-3.1zM249.20 594.4h3.1V604.1h-3.1zM253.57 590.7h3.1V594.7h-3.1zM262.32 597.9h3.1V601.5h-3.1zM271.07 596.9h3.1V599.3h-3.1zM279.82 601.9h3.1V605.5h-3.1zM292.95 611.3h3.1V615.7h-3.1zM301.70 609.1h3.1V615.3h-3.1zM310.45 608.2h3.1V617.0h-3.1zM332.32 629.1h3.1V633.9h-3.1zM341.07 630.7h3.1V641.6h-3.1zM345.45 626.0h3.1V632.0h-3.1zM349.82 613.8h3.1V625.7h-3.1zM362.95 645.4h3.1V648.3h-3.1zM367.32 633.6h3.1V646.1h-3.1zM371.70 623.8h3.1V635.4h-3.1zM402.32 638.6h3.1V640.1h-3.1zM415.45 644.1h3.1V647.0h-3.1zM428.57 655.8h3.1V660.2h-3.1zM432.95 654.2h3.1V657.0h-3.1zM437.32 651.0h3.1V654.8h-3.1zM454.82 661.4h3.1V669.9h-3.1zM459.20 654.8h3.1V662.9h-3.1zM481.07 660.2h3.1V667.1h-3.1zM494.20 665.2h3.1V671.4h-3.1zM498.57 657.9h3.1V665.2h-3.1zM507.32 661.4h3.1V665.4h-3.1zM520.45 685.8h3.1V699.6h-3.1zM524.83 633.1h3.1V686.6h-3.1zM529.20 609.6h3.1V633.1h-3.1zM542.33 603.9h3.1V613.7h-3.1zM546.70 587.0h3.1V604.9h-3.1zM551.08 575.2h3.1V588.9h-3.1zM559.83 566.9h3.1V576.7h-3.1zM572.95 589.9h3.1V591.7h-3.1zM586.08 592.7h3.1V596.8h-3.1zM590.45 583.7h3.1V593.1h-3.1zM594.83 571.6h3.1V585.2h-3.1zM599.20 561.1h3.1V572.4h-3.1zM603.58 552.3h3.1V561.7h-3.1zM616.70 526.0h3.1V570.1h-3.1zM651.70 578.0h3.1V583.7h-3.1zM660.45 582.3h3.1V584.6h-3.1zM669.20 578.0h3.1V589.9h-3.1zM673.58 576.1h3.1V578.6h-3.1zM682.33 572.9h3.1V581.4h-3.1zM695.45 571.1h3.1V577.6h-3.1zM704.20 553.2h3.1V576.7h-3.1zM717.33 569.2h3.1V586.1h-3.1zM726.08 574.4h3.1V582.9h-3.1zM739.20 564.5h3.1V588.9h-3.1zM743.58 564.1h3.1V566.0h-3.1zM747.95 561.6h3.1V566.0h-3.1zM752.33 548.2h3.1V563.5h-3.1zM761.08 556.2h3.1V561.2h-3.1zM765.45 539.0h3.1V557.0h-3.1zM774.20 559.1h3.1V561.0h-3.1zM782.95 553.7h3.1V561.0h-3.1zM791.70 564.1h3.1V572.5h-3.1zM796.08 559.1h3.1V565.3h-3.1zM800.45 557.2h3.1V560.3h-3.1zM809.20 557.8h3.1V563.5h-3.1zM817.95 564.1h3.1V569.7h-3.1zM822.33 541.9h3.1V565.0h-3.1zM826.70 518.0h3.1V541.9h-3.1zM831.08 505.0h3.1V518.4h-3.1zM839.83 514.0h3.1V523.0h-3.1zM844.20 509.4h3.1V514.9h-3.1zM848.58 500.6h3.1V509.6h-3.1zM852.95 486.1h3.1V500.6h-3.1zM861.70 501.2h3.1V505.0h-3.1zM870.45 488.9h3.1V506.1h-3.1zM874.83 485.2h3.1V489.6h-3.1zM892.33 493.9h3.1V504.0h-3.1zM896.70 493.9h3.1V495.2h-3.1zM918.58 525.6h3.1V526.9h-3.1zM922.95 512.1h3.1V525.9h-3.1zM940.45 559.1h3.1V561.8h-3.1zM949.20 561.0h3.1V567.8h-3.1zM957.95 551.2h3.1V570.0h-3.1zM962.33 549.9h3.1V552.4h-3.1zM971.08 545.4h3.1V552.9h-3.1zM975.45 544.7h3.1V546.2h-3.1zM984.20 549.1h3.1V555.4h-3.1zM988.58 546.0h3.1V550.4h-3.1zM1001.70 550.0h3.1V553.3h-3.1zM1006.08 540.0h3.1V552.0h-3.1zM1014.83 548.7h3.1V554.5h-3.1zM1019.20 545.7h3.1V549.1h-3.1zM1023.58 542.5h3.1V546.2h-3.1zM1027.95 542.2h3.1V543.5h-3.1zM1036.70 537.8h3.1V555.4h-3.1zM1041.08 529.1h3.1V538.2h-3.1zM1045.45 525.7h3.1V529.1h-3.1zM1071.70 538.2h3.1V545.4h-3.1zM1076.08 533.7h3.1V538.7h-3.1zM1080.45 533.2h3.1V535.0h-3.1zM1089.20 527.8h3.1V534.7h-3.1zM1097.95 515.9h3.1V528.2h-3.1zM1102.33 514.9h3.1V516.9h-3.1zM1111.08 517.8h3.1V524.1h-3.1zM1119.83 516.2h3.1V520.7h-3.1zM1132.95 520.3h3.1V525.9h-3.1zM1141.70 520.3h3.1V531.6h-3.1zM1146.08 517.2h3.1V521.2h-3.1zM1154.83 514.9h3.1V523.7h-3.1zM1159.20 486.1h3.1V516.6h-3.1zM1172.33 475.5h3.1V493.0h-3.1zM1176.70 460.2h3.1V475.2h-3.1zM1181.08 453.0h3.1V460.6h-3.1zM1189.83 465.2h3.1V467.1h-3.1zM1194.20 451.3h3.1V466.3h-3.1zM1198.58 441.3h3.1V451.9h-3.1zM1202.95 431.9h3.1V441.9h-3.1zM1207.33 422.2h3.1V433.8h-3.1zM1211.70 421.8h3.1V423.1h-3.1zM1216.08 416.2h3.1V423.1h-3.1zM1233.58 428.7h3.1V431.2h-3.1zM1246.70 425.9h3.1V438.1h-3.1zM1251.08 418.8h3.1V426.9h-3.1zM1255.45 409.0h3.1V419.9h-3.1zM1259.83 380.8h3.1V410.0h-3.1zM1264.20 377.4h3.1V381.8h-3.1zM1268.58 368.1h3.1V378.0h-3.1zM1272.95 367.3h3.1V369.2h-3.1zM1277.33 334.2h3.1V367.3h-3.1zM1299.20 369.9h3.1V371.8h-3.1zM1307.95 377.4h3.1V385.5h-3.1zM1316.70 381.2h3.1V383.6h-3.1zM1334.20 404.3h3.1V406.2h-3.1zM1338.58 398.7h3.1V407.5h-3.1zM1342.95 396.2h3.1V400.0h-3.1zM1347.33 363.9h3.1V397.4h-3.1zM1356.08 370.5h3.1V378.0h-3.1zM1364.83 354.1h3.1V385.5h-3.1zM1369.20 352.3h3.1V355.5h-3.1zM1373.58 326.0h3.1V351.7h-3.1zM1382.33 319.2h3.1V329.2h-3.1zM1391.08 302.9h3.1V320.7h-3.1zM1399.83 309.4h3.1V311.3h-3.1zM1404.20 297.2h3.1V311.3h-3.1zM1439.20 353.9h3.1V360.3h-3.1zM1447.95 349.3h3.1V353.0h-3.1zM1461.08 346.4h3.1V359.7h-3.1zM1465.45 339.5h3.1V346.8h-3.1zM1474.20 344.1h3.1V351.9h-3.1zM1478.58 342.1h3.1V344.9h-3.1zM1491.70 346.1h3.1V347.9h-3.1zM1496.08 330.2h3.1V347.9h-3.1zM1509.20 356.8h3.1V358.3h-3.1zM1513.58 351.9h3.1V358.3h-3.1zM1517.95 350.7h3.1V351.9h-3.1zM1522.33 348.4h3.1V351.9h-3.1zM1526.70 334.1h3.1V349.1h-3.1zM1531.08 298.7h3.1V334.9h-3.1zM1535.45 269.8h3.1V299.0h-3.1zM1539.83 270.9h3.1V272.1h-3.1zM1561.70 300.2h3.1V311.4h-3.1zM1566.08 290.9h3.1V300.5h-3.1zM1574.83 300.2h3.1V303.1h-3.1zM1579.20 290.9h3.1V300.5h-3.1zM1583.58 283.7h3.1V291.5h-3.1zM1596.70 277.9h3.1V297.9h-3.1zM1605.45 277.1h3.1V288.3h-3.1zM1618.58 293.3h3.1V309.4h-3.1zM1627.33 298.7h3.1V304.8h-3.1zM1631.70 296.1h3.1V299.8h-3.1zM1644.83 307.1h3.1V321.7h-3.1zM1662.33 306.2h3.1V318.6h-3.1zM1666.70 302.7h3.1V307.1h-3.1zM1675.45 316.2h3.1V327.8h-3.1zM1679.83 309.0h3.1V317.1h-3.1zM1684.20 307.1h3.1V309.5h-3.1zM1688.58 304.2h3.1V307.9h-3.1zM1692.95 297.1h3.1V304.9h-3.1zM1706.08 310.6h3.1V312.8h-3.1zM1710.45 305.1h3.1V310.9h-3.1zM1719.20 310.4h3.1V313.4h-3.1zM1723.58 305.1h3.1V311.2h-3.1zM1727.95 293.5h3.1V307.9h-3.1zM1736.70 292.9h3.1V299.0h-3.1zM1741.08 281.3h3.1V294.6h-3.1zM1749.83 288.1h3.1V292.4h-3.1zM1754.20 288.1h3.1V289.3h-3.1zM1758.58 288.1h3.1V289.3h-3.1zM1767.33 283.3h3.1V289.6h-3.1zM1780.45 292.4h3.1V293.6h-3.1zM1784.83 277.1h3.1V293.5h-3.1zM1797.95 282.7h3.1V287.9h-3.1zM1806.70 285.2h3.1V289.8h-3.1zM1811.08 279.1h3.1V286.0h-3.1zM1815.45 273.5h3.1V281.8h-3.1zM1819.83 260.0h3.1V274.6h-3.1zM1824.20 238.6h3.1V260.8h-3.1zM1837.33 239.2h3.1V249.1h-3.1zM1859.20 243.3h3.1V254.7h-3.1zM1863.58 231.2h3.1V243.8h-3.1zM1867.95 227.8h3.1V231.2h-3.1zM1876.70 204.9h3.1V230.5h-3.1zM1885.45 210.6h3.1V217.7h-3.1zM1889.83 198.9h3.1V211.7h-3.1zM1894.20 195.2h3.1V199.8h-3.1zM1898.58 183.6h3.1V196.8h-3.1zM1902.95 167.2h3.1V183.6h-3.1zM1907.33 155.7h3.1V167.5h-3.1zM1916.08 150.3h3.1V160.8h-3.1zM1920.45 142.2h3.1V150.3h-3.1zM1924.83 137.5h3.1V143.2h-3.1zM1933.58 144.0h3.1V152.1h-3.1zM1942.33 146.7h3.1V148.0h-3.1zM1946.70 134.8h3.1V145.9h-3.1zM1955.45 139.1h3.1V150.3h-3.1zM1964.20 177.3h3.1V180.0h-3.1zM1968.58 170.3h3.1V178.3h-3.1zM1981.70 158.6h3.1V176.2h-3.1zM2007.95 256.7h3.1V263.1h-3.1zM2021.08 265.7h3.1V267.8h-3.1z" fill="#25a750"/>
<path d="M74.20 516.0h3.1V526.5h-3.1zM82.95 515.2h3.1V518.4h-3.1zM87.33 518.8h3.1V537.2h-3.1zM96.08 525.1h3.1V530.0h-3.1zM100.45 530.1h3.1V543.8h-3.1zM109.20 541.0h3.1V551.6h-3.1zM113.58 551.1h3.1V563.6h-3.1zM117.95 561.8h3.1V570.9h-3.1zM131.07 558.2h3.1V566.8h-3.1zM139.82 560.8h3.1V573.3h-3.1zM144.20 572.6h3.1V586.8h-3.1zM157.32 578.8h3.1V591.5h-3.1zM161.70 589.7h3.1V591.5h-3.1zM174.82 586.0h3.1V591.1h-3.1zM179.20 590.7h3.1V599.8h-3.1zM192.32 583.2h3.1V596.9h-3.1zM201.07 591.5h3.1V598.6h-3.1zM205.45 597.6h3.1V618.6h-3.1zM209.82 617.5h3.1V630.1h-3.1zM218.57 619.3h3.1V634.0h-3.1zM236.07 606.0h3.1V608.7h-3.1zM257.95 590.4h3.1V600.5h-3.1zM266.70 597.6h3.1V599.3h-3.1zM275.45 597.3h3.1V605.5h-3.1zM284.20 601.5h3.1V607.0h-3.1zM288.57 606.0h3.1V615.7h-3.1zM297.32 611.3h3.1V614.9h-3.1zM306.07 608.6h3.1V616.6h-3.1zM314.82 608.8h3.1V614.8h-3.1zM319.20 613.8h3.1V616.3h-3.1zM323.57 615.1h3.1V621.1h-3.1zM327.95 619.1h3.1V632.9h-3.1zM336.70 629.9h3.1V641.6h-3.1zM354.20 614.1h3.1V626.6h-3.1zM358.57 626.0h3.1V647.0h-3.1zM376.07 623.2h3.1V626.6h-3.1zM380.45 625.3h3.1V626.6h-3.1zM384.82 626.6h3.1V629.1h-3.1zM389.20 627.0h3.1V631.1h-3.1zM393.57 630.7h3.1V637.6h-3.1zM397.95 635.7h3.1V640.4h-3.1zM406.70 638.9h3.1V645.8h-3.1zM411.07 645.1h3.1V647.0h-3.1zM419.82 644.1h3.1V653.7h-3.1zM424.20 652.9h3.1V658.3h-3.1zM441.70 651.7h3.1V657.0h-3.1zM446.07 656.2h3.1V659.9h-3.1zM450.45 658.9h3.1V669.9h-3.1zM463.57 654.2h3.1V660.2h-3.1zM467.95 658.3h3.1V660.8h-3.1zM472.32 660.2h3.1V661.7h-3.1zM476.70 660.8h3.1V668.3h-3.1zM485.45 660.8h3.1V668.7h-3.1zM489.82 668.7h3.1V670.8h-3.1zM502.95 657.9h3.1V664.9h-3.1zM511.70 662.0h3.1V665.8h-3.1zM516.08 665.8h3.1V700.9h-3.1zM533.58 609.6h3.1V611.5h-3.1zM537.95 610.5h3.1V613.7h-3.1zM555.45 574.4h3.1V577.3h-3.1zM564.20 567.3h3.1V583.3h-3.1zM568.58 582.3h3.1V591.2h-3.1zM577.33 590.8h3.1V593.6h-3.1zM581.70 592.3h3.1V596.4h-3.1zM607.95 552.3h3.1V554.7h-3.1zM612.33 552.8h3.1V570.1h-3.1zM621.08 526.0h3.1V530.7h-3.1zM625.45 530.3h3.1V549.5h-3.1zM629.83 549.1h3.1V554.7h-3.1zM634.20 553.6h3.1V559.8h-3.1zM638.58 557.9h3.1V576.1h-3.1zM642.95 575.8h3.1V579.5h-3.1zM647.33 579.1h3.1V583.7h-3.1zM656.08 578.0h3.1V584.6h-3.1zM664.83 582.3h3.1V590.4h-3.1zM677.95 576.1h3.1V581.8h-3.1zM686.70 572.9h3.1V575.2h-3.1zM691.08 574.3h3.1V578.0h-3.1zM699.83 572.6h3.1V576.7h-3.1zM708.58 551.3h3.1V564.5h-3.1zM712.95 563.0h3.1V586.7h-3.1zM721.70 568.2h3.1V583.7h-3.1zM730.45 574.4h3.1V587.0h-3.1zM734.83 586.1h3.1V588.9h-3.1zM756.70 548.2h3.1V561.2h-3.1zM769.83 539.0h3.1V561.0h-3.1zM778.58 558.2h3.1V561.0h-3.1zM787.33 552.8h3.1V572.0h-3.1zM804.83 557.8h3.1V564.5h-3.1zM813.58 557.2h3.1V569.7h-3.1zM835.45 504.2h3.1V522.1h-3.1zM857.33 485.2h3.1V505.0h-3.1zM866.08 500.6h3.1V506.1h-3.1zM879.20 486.1h3.1V494.8h-3.1zM883.58 494.8h3.1V503.1h-3.1zM887.95 501.8h3.1V504.0h-3.1zM901.08 493.9h3.1V505.8h-3.1zM905.45 505.0h3.1V510.6h-3.1zM909.83 508.6h3.1V518.4h-3.1zM914.20 517.7h3.1V526.5h-3.1zM927.33 512.1h3.1V523.0h-3.1zM931.70 522.1h3.1V539.0h-3.1zM936.08 538.7h3.1V561.8h-3.1zM944.83 560.0h3.1V567.8h-3.1zM953.58 561.0h3.1V568.5h-3.1zM966.70 549.1h3.1V553.7h-3.1zM979.83 544.7h3.1V554.8h-3.1zM992.95 545.7h3.1V550.0h-3.1zM997.33 549.1h3.1V553.3h-3.1zM1010.45 540.0h3.1V554.5h-3.1zM1032.33 541.2h3.1V554.1h-3.1zM1049.83 526.2h3.1V528.2h-3.1zM1054.20 527.2h3.1V530.3h-3.1zM1058.58 528.5h3.1V531.0h-3.1zM1062.95 531.2h3.1V535.0h-3.1zM1067.33 535.3h3.1V544.7h-3.1zM1084.83 533.2h3.1V534.7h-3.1zM1093.58 527.0h3.1V529.1h-3.1zM1106.70 514.0h3.1V522.8h-3.1zM1115.45 517.8h3.1V521.2h-3.1zM1124.20 516.2h3.1V517.8h-3.1zM1128.58 517.8h3.1V526.6h-3.1zM1137.33 519.9h3.1V531.6h-3.1zM1150.45 517.2h3.1V523.7h-3.1zM1163.58 486.1h3.1V491.5h-3.1zM1167.95 490.6h3.1V493.8h-3.1zM1185.45 453.0h3.1V467.1h-3.1zM1220.45 416.2h3.1V420.3h-3.1zM1224.83 419.9h3.1V429.3h-3.1zM1229.20 428.7h3.1V431.2h-3.1zM1237.95 428.2h3.1V431.6h-3.1zM1242.33 431.2h3.1V438.1h-3.1zM1281.70 334.2h3.1V345.1h-3.1zM1286.08 344.2h3.1V354.5h-3.1zM1290.45 354.1h3.1V356.4h-3.1zM1294.83 356.0h3.1V371.8h-3.1zM1303.58 371.1h3.1V385.0h-3.1zM1312.33 377.4h3.1V383.6h-3.1zM1321.08 381.2h3.1V386.1h-3.1zM1325.45 385.5h3.1V387.4h-3.1zM1329.83 386.8h3.1V406.2h-3.1zM1351.70 363.0h3.1V379.9h-3.1zM1360.45 370.5h3.1V385.5h-3.1zM1377.95 326.0h3.1V329.7h-3.1zM1386.70 318.8h3.1V321.1h-3.1zM1395.45 302.9h3.1V311.3h-3.1zM1408.58 296.3h3.1V298.2h-3.1zM1412.95 296.3h3.1V302.3h-3.1zM1417.33 302.5h3.1V321.3h-3.1zM1421.70 319.8h3.1V344.1h-3.1zM1426.08 343.3h3.1V344.7h-3.1zM1430.45 344.1h3.1V350.5h-3.1zM1434.83 349.3h3.1V359.9h-3.1zM1443.58 353.0h3.1V354.5h-3.1zM1452.33 349.3h3.1V358.0h-3.1zM1456.70 357.2h3.1V358.4h-3.1zM1469.83 340.3h3.1V351.9h-3.1zM1482.95 342.1h3.1V344.9h-3.1zM1487.33 343.3h3.1V348.4h-3.1zM1500.45 329.9h3.1V341.0h-3.1zM1504.83 340.1h3.1V358.3h-3.1zM1544.20 271.9h3.1V287.5h-3.1zM1548.58 285.2h3.1V288.1h-3.1zM1552.95 287.1h3.1V291.5h-3.1zM1557.33 291.5h3.1V311.4h-3.1zM1570.45 290.9h3.1V303.1h-3.1zM1587.95 283.7h3.1V287.8h-3.1zM1592.33 286.9h3.1V297.9h-3.1zM1601.08 278.8h3.1V287.8h-3.1zM1609.83 277.1h3.1V280.5h-3.1zM1614.20 279.0h3.1V307.7h-3.1zM1622.95 293.3h3.1V304.8h-3.1zM1636.08 296.1h3.1V307.7h-3.1zM1640.45 306.8h3.1V321.7h-3.1zM1649.20 307.1h3.1V316.2h-3.1zM1653.58 315.3h3.1V316.7h-3.1zM1657.95 316.2h3.1V320.1h-3.1zM1671.08 303.1h3.1V328.6h-3.1zM1697.33 297.1h3.1V301.8h-3.1zM1701.70 300.9h3.1V311.5h-3.1zM1714.83 305.3h3.1V313.1h-3.1zM1732.33 293.5h3.1V299.8h-3.1zM1745.45 281.5h3.1V293.5h-3.1zM1762.95 288.1h3.1V289.8h-3.1zM1771.70 283.5h3.1V290.9h-3.1zM1776.08 290.1h3.1V294.0h-3.1zM1789.20 277.1h3.1V286.0h-3.1zM1793.58 286.0h3.1V288.3h-3.1zM1802.33 282.7h3.1V289.8h-3.1zM1828.58 238.6h3.1V246.6h-3.1zM1832.95 245.8h3.1V249.1h-3.1zM1841.70 239.2h3.1V244.7h-3.1zM1846.08 243.9h3.1V248.6h-3.1zM1850.45 247.7h3.1V255.0h-3.1zM1854.83 254.1h3.1V255.3h-3.1zM1872.33 227.8h3.1V231.2h-3.1zM1881.08 204.9h3.1V217.7h-3.1zM1911.70 155.7h3.1V160.8h-3.1zM1929.20 136.9h3.1V152.1h-3.1zM1937.95 143.2h3.1V148.6h-3.1zM1951.08 134.8h3.1V149.4h-3.1zM1959.83 140.2h3.1V180.0h-3.1zM1972.95 170.3h3.1V172.4h-3.1zM1977.33 172.0h3.1V176.2h-3.1zM1986.08 158.6h3.1V189.8h-3.1zM1990.45 189.3h3.1V217.3h-3.1zM1994.83 216.9h3.1V229.2h-3.1zM1999.20 228.6h3.1V251.9h-3.1zM2003.58 251.2h3.1V264.0h-3.1zM2012.33 257.2h3.1V265.2h-3.1zM2016.70 265.2h3.1V267.8h-3.1zM2025.45 265.2h3.1V279.4h-3.1zM2029.83 278.8h3.1V299.1h-3.1zM2034.20 298.5h3.1V311.2h-3.1zM2038.58 310.6h3.1V321.2h-3.1z" fill="#ca3f64"/>
</g>
<rect x="75.5" y="762.6" width="2146.5" height="1.6" fill="#2a2d39"/>
<rect x="75.5" y="1015.8" width="2146.5" height="1.5" fill="#292c37"/>
<rect x="74" y="56" width="2" height="961" fill="#141519"/>
<rect x="0" y="55" width="2222" height="1" fill="#262626"/>
<circle cx="26" cy="23.2" r="15.6" fill="#6685f2"/>
<g fill="#fff"><path d="M26 14.9L20.8 23.5 26 26.6 31.2 23.5Z"/><path d="M20.8 24.8L26 28 31.2 24.8 26 31.8Z"/></g>
<text x="55.60" y="31.80" font-size="23.60" fill="#ffffff" textLength="93.20" lengthAdjust="spacingAndGlyphs" stroke="#ffffff" stroke-width="0.40">ETH/BTC</text>
<rect x="471.8" y="6.3" width="73.8" height="33.5" rx="6" fill="#232323"/>
<text x="189.32" y="31.50" font-size="19.6" fill="#8f8f8f" stroke="#8f8f8f" stroke-width="0.29" textLength="39.2" lengthAdjust="spacingAndGlyphs">分时</text>
<text x="252.00" y="30.70" font-size="21.09" fill="#8f8f8f" textLength="10.68" lengthAdjust="spacingAndGlyphs" stroke="#8f8f8f" stroke-width="0.25">1</text>
<text x="262.32" y="31.50" font-size="19.6" fill="#8f8f8f" stroke="#8f8f8f" stroke-width="0.29" textLength="39.2" lengthAdjust="spacingAndGlyphs">分钟</text>
<text x="325.00" y="30.70" font-size="21.09" fill="#8f8f8f" textLength="10.68" lengthAdjust="spacingAndGlyphs" stroke="#8f8f8f" stroke-width="0.25">5</text>
<text x="336.32" y="31.50" font-size="19.6" fill="#8f8f8f" stroke="#8f8f8f" stroke-width="0.29" textLength="39.2" lengthAdjust="spacingAndGlyphs">分钟</text>
<text x="399.40" y="30.70" font-size="21.09" fill="#8f8f8f" textLength="21.36" lengthAdjust="spacingAndGlyphs" stroke="#8f8f8f" stroke-width="0.25">15</text>
<text x="421.32" y="31.50" font-size="19.6" fill="#8f8f8f" stroke="#8f8f8f" stroke-width="0.29" textLength="39.2" lengthAdjust="spacingAndGlyphs">分钟</text>
<text x="483.90" y="30.70" font-size="21.09" fill="#ffffff" textLength="10.68" lengthAdjust="spacingAndGlyphs" stroke="#ffffff" stroke-width="0.25">1</text>
<text x="494.32" y="31.50" font-size="19.6" fill="#ffffff" stroke="#ffffff" stroke-width="0.29" textLength="39.2" lengthAdjust="spacingAndGlyphs">小时</text>
<text x="557.50" y="30.70" font-size="21.09" fill="#8f8f8f" textLength="10.68" lengthAdjust="spacingAndGlyphs" stroke="#8f8f8f" stroke-width="0.25">4</text>
<text x="568.32" y="31.50" font-size="19.6" fill="#8f8f8f" stroke="#8f8f8f" stroke-width="0.29" textLength="39.2" lengthAdjust="spacingAndGlyphs">小时</text>
<path d="M626.8 19.9l5.3 4.8 5.3-4.8" stroke="#fff" stroke-width="1.8" fill="none" stroke-linecap="round" stroke-linejoin="round"/>
<rect x="647.3" y="14.5" width="1" height="17" fill="#333"/>
<rect x="697.3" y="14.5" width="1" height="17" fill="#333"/>
<rect x="843.0" y="14.5" width="1" height="17" fill="#333"/>
<g stroke="#fff" stroke-width="1.8" fill="none" stroke-linejoin="round" stroke-linecap="round"><rect x="665.1" y="16" width="5.6" height="13.6" rx="0.8"/><path d="M667.9 12.6V16M667.9 29.6V33"/><rect x="675.4" y="19" width="5.6" height="7.8" rx="0.8"/><path d="M678.2 16V19M678.2 26.8V30.4"/></g>
<g stroke="#fff" stroke-width="1.8" fill="none" stroke-linecap="round" stroke-linejoin="round"><path d="M713.6 15.2H731.8M713.6 30.7H731.8M714.2 25.4L719 21.1 724 24.2 731.4 19.5"/></g>
<g stroke="#fff" stroke-width="1.8" fill="none" stroke-linecap="round"><path d="M761.6 15.3H774.8M761.6 22.9H774.8M761.6 30.7H774.8M777.6 15.3H779.6M777.6 22.9H779.6M777.6 30.7H779.6"/></g>
<path d="M817.40 14.40L817.77 14.41L818.14 14.43L818.51 14.47L818.90 14.41L819.39 13.93L819.94 13.43L820.53 12.97L821.16 12.58L821.65 12.64L822.09 12.84L822.53 13.05L822.95 13.29L823.36 13.54L823.77 13.81L824.16 14.09L824.46 14.49L824.43 15.22L824.33 15.97L824.17 16.69L824.00 17.36L824.14 17.73L824.36 18.02L824.57 18.33L824.76 18.65L824.94 18.98L825.10 19.31L825.25 19.65L825.50 19.95L826.16 20.14L826.87 20.36L827.56 20.65L828.21 20.99L828.41 21.45L828.46 21.93L828.49 22.42L828.50 22.90L828.49 23.38L828.46 23.87L828.41 24.35L828.21 24.81L827.56 25.15L826.87 25.44L826.16 25.66L825.50 25.85L825.25 26.15L825.10 26.49L824.94 26.82L824.76 27.15L824.57 27.47L824.36 27.78L824.14 28.07L824.00 28.44L824.17 29.11L824.33 29.83L824.43 30.58L824.46 31.31L824.16 31.71L823.77 31.99L823.36 32.26L822.95 32.51L822.53 32.75L822.09 32.96L821.65 33.16L821.16 33.22L820.53 32.83L819.94 32.37L819.39 31.87L818.90 31.39L818.51 31.33L818.14 31.37L817.77 31.39L817.40 31.40L817.03 31.39L816.66 31.37L816.29 31.33L815.90 31.39L815.41 31.87L814.86 32.37L814.27 32.83L813.64 33.22L813.15 33.16L812.71 32.96L812.27 32.75L811.85 32.51L811.44 32.26L811.03 31.99L810.64 31.71L810.34 31.31L810.37 30.58L810.47 29.83L810.63 29.11L810.80 28.44L810.66 28.07L810.44 27.78L810.23 27.47L810.04 27.15L809.86 26.82L809.70 26.49L809.55 26.15L809.30 25.85L808.64 25.66L807.93 25.44L807.24 25.15L806.59 24.81L806.39 24.35L806.34 23.87L806.31 23.38L806.30 22.90L806.31 22.42L806.34 21.93L806.39 21.45L806.59 20.99L807.24 20.65L807.93 20.36L808.64 20.14L809.30 19.95L809.55 19.65L809.70 19.31L809.86 18.98L810.04 18.65L810.23 18.33L810.44 18.02L810.66 17.73L810.80 17.36L810.63 16.69L810.47 15.97L810.37 15.22L810.34 14.49L810.64 14.09L811.03 13.81L811.44 13.54L811.85 13.29L812.27 13.05L812.71 12.84L813.15 12.64L813.64 12.58L814.27 12.97L814.86 13.43L815.41 13.93L815.90 14.41L816.29 14.47L816.66 14.43L817.03 14.41L817.40 14.40Z" stroke="#fff" stroke-width="1.8" fill="none" stroke-linejoin="round"/>
<circle cx="817.4" cy="22.9" r="3.7" stroke="#fff" stroke-width="1.8" fill="none"/>
<g stroke="#fff" stroke-width="1.8" fill="none" stroke-linecap="round" stroke-linejoin="round"><path d="M860 31.7H876.8M864.4 29.2H872.4M868.4 14V29.2M861.2 14H875.6"/><path d="M861.4 14.6C859.3 17.2 857.5 19 857.5 20.8A3.95 3.95 0 0 0 865.4 20.8C865.4 19 863.5 17.2 861.4 14.6Z"/><path d="M875.4 14.6C873.3 17.2 871.5 19 871.5 20.8A3.95 3.95 0 0 0 879.4 20.8C879.4 19 877.5 17.2 875.4 14.6Z"/></g>
<rect x="1841.3" y="6.4" width="272.5" height="33.8" rx="8" fill="#292929"/>
<rect x="1917.9" y="9" width="119.7" height="28.8" rx="6" fill="#3e3e3e"/>
<text x="1855.00" y="29.60" font-size="17.4" fill="#8a8a8a" textLength="52.2" lengthAdjust="spacingAndGlyphs">基本版</text>
<text x="1929.60" y="29.80" font-size="19.17" fill="#ffffff" textLength="96.70" lengthAdjust="spacingAndGlyphs" stroke="#ffffff" stroke-width="0.30">TradingView</text>
<text x="2047.90" y="29.60" font-size="17.4" fill="#8a8a8a" textLength="52.2" lengthAdjust="spacingAndGlyphs">深度图</text>
<rect x="2130.7" y="15.3" width="19.3" height="15.1" rx="3" stroke="#fff" stroke-width="2" fill="none"/>
<g stroke="#fff" stroke-width="1.8" fill="none" stroke-linecap="round" stroke-linejoin="round"><rect x="2179.8" y="14.4" width="17.6" height="16.9" rx="2.5"/><path d="M2194 17.6L2190 21.6M2190 18V21.8H2193.8M2183.2 28.2L2187.2 24.2M2187.2 27.8V24H2183.4"/></g>
<text x="87.70" y="86.90" font-size="23.43" fill="#d3d5dc" textLength="91.70" lengthAdjust="spacingAndGlyphs">ETH/BTC</text>
<text x="185.50" y="86.90" font-size="22.00" fill="#d3d5dc">·</text>
<text x="199.60" y="86.90" font-size="23.43" fill="#d3d5dc" textLength="8.60" lengthAdjust="spacingAndGlyphs">1</text>
<text x="210.60" y="87.60" font-size="22.9" fill="#d3d5dc" stroke="#d3d5dc" stroke-width="0.3" textLength="45.8" lengthAdjust="spacingAndGlyphs">小时</text>
<text x="260.40" y="86.90" font-size="22.00" fill="#d3d5dc">·</text>
<text x="272.00" y="87.60" font-size="22.9" fill="#d3d5dc" stroke="#d3d5dc" stroke-width="0.3" textLength="45.8" lengthAdjust="spacingAndGlyphs">欧易</text>
<text x="328.30" y="87.40" font-size="18.8" fill="#d3d5dc" stroke="#d3d5dc" stroke-width="0.2">开</text>
<text x="347.10" y="86.90" font-size="19.17" fill="#d3d5dc" textLength="9.40" lengthAdjust="spacingAndGlyphs" stroke="#d3d5dc" stroke-width="0.30">=</text>
<text x="359.00" y="86.90" font-size="19.17" fill="#ca3f64" textLength="67.00" lengthAdjust="spacingAndGlyphs">0.05756</text>
<text x="435.30" y="87.40" font-size="18.8" fill="#d3d5dc" stroke="#d3d5dc" stroke-width="0.2">高</text>
<text x="453.80" y="86.90" font-size="19.17" fill="#d3d5dc" textLength="9.40" lengthAdjust="spacingAndGlyphs" stroke="#d3d5dc" stroke-width="0.30">=</text>
<text x="465.20" y="86.90" font-size="19.17" fill="#ca3f64" textLength="66.50" lengthAdjust="spacingAndGlyphs">0.05756</text>
<text x="540.90" y="87.40" font-size="18.8" fill="#d3d5dc" stroke="#d3d5dc" stroke-width="0.2">低</text>
<text x="560.10" y="86.90" font-size="19.17" fill="#d3d5dc" textLength="9.40" lengthAdjust="spacingAndGlyphs" stroke="#d3d5dc" stroke-width="0.30">=</text>
<text x="571.30" y="86.90" font-size="19.17" fill="#ca3f64" textLength="66.80" lengthAdjust="spacingAndGlyphs">0.05736</text>
<text x="648.00" y="87.40" font-size="18.8" fill="#d3d5dc" stroke="#d3d5dc" stroke-width="0.2">收</text>
<text x="666.10" y="86.90" font-size="19.17" fill="#d3d5dc" textLength="9.40" lengthAdjust="spacingAndGlyphs" stroke="#d3d5dc" stroke-width="0.30">=</text>
<text x="677.70" y="86.90" font-size="19.17" fill="#ca3f64" textLength="65.50" lengthAdjust="spacingAndGlyphs">0.05741</text>
<text x="754.50" y="86.90" font-size="19.17" fill="#ca3f64" textLength="74.40" lengthAdjust="spacingAndGlyphs">-0.00016</text>
<text x="836.40" y="86.90" font-size="19.17" fill="#ca3f64" textLength="70.60" lengthAdjust="spacingAndGlyphs">(−0.28%)</text>
<text x="86.60" y="794.90" font-size="18.9" fill="#d3d5dc" stroke="#d3d5dc" stroke-width="0.2" textLength="56.7" lengthAdjust="spacingAndGlyphs">成交量</text>
<text x="143.00" y="794.00" font-size="19.17" fill="#d3d5dc" textLength="74.40" lengthAdjust="spacingAndGlyphs">(Volume)</text>
<text x="223.70" y="794.00" font-size="19.17" fill="#8b8e98" textLength="52.90" lengthAdjust="spacingAndGlyphs">SMA 9</text>
<text x="288.30" y="794.00" font-size="19.17" fill="#ca3f64" textLength="77.20" lengthAdjust="spacingAndGlyphs">243.2656</text>
<text x="2152.00" y="721.20" font-size="17.79" fill="#b6b9c1" textLength="60.00" lengthAdjust="spacingAndGlyphs" stroke="#b6b9c1" stroke-width="0.20">0.05100</text>
<text x="2152.00" y="659.60" font-size="17.79" fill="#b6b9c1" textLength="60.00" lengthAdjust="spacingAndGlyphs" stroke="#b6b9c1" stroke-width="0.20">0.05200</text>
<text x="2152.00" y="598.00" font-size="17.79" fill="#b6b9c1" textLength="60.00" lengthAdjust="spacingAndGlyphs" stroke="#b6b9c1" stroke-width="0.20">0.05300</text>
<text x="2152.00" y="536.40" font-size="17.79" fill="#b6b9c1" textLength="60.00" lengthAdjust="spacingAndGlyphs" stroke="#b6b9c1" stroke-width="0.20">0.05400</text>
<text x="2152.00" y="474.80" font-size="17.79" fill="#b6b9c1" textLength="60.00" lengthAdjust="spacingAndGlyphs" stroke="#b6b9c1" stroke-width="0.20">0.05500</text>
<text x="2152.00" y="413.20" font-size="17.79" fill="#b6b9c1" textLength="60.00" lengthAdjust="spacingAndGlyphs" stroke="#b6b9c1" stroke-width="0.20">0.05600</text>
<text x="2152.00" y="351.60" font-size="17.79" fill="#b6b9c1" textLength="60.00" lengthAdjust="spacingAndGlyphs" stroke="#b6b9c1" stroke-width="0.20">0.05700</text>
<text x="2152.00" y="290.00" font-size="17.79" fill="#b6b9c1" textLength="60.00" lengthAdjust="spacingAndGlyphs" stroke="#b6b9c1" stroke-width="0.20">0.05800</text>
<text x="2152.00" y="228.40" font-size="17.79" fill="#b6b9c1" textLength="60.00" lengthAdjust="spacingAndGlyphs" stroke="#b6b9c1" stroke-width="0.20">0.05900</text>
<text x="2152.00" y="166.80" font-size="17.79" fill="#b6b9c1" textLength="60.00" lengthAdjust="spacingAndGlyphs" stroke="#b6b9c1" stroke-width="0.20">0.06000</text>
<text x="2152.00" y="105.20" font-size="17.79" fill="#b6b9c1" textLength="60.00" lengthAdjust="spacingAndGlyphs" stroke="#b6b9c1" stroke-width="0.20">0.06100</text>
<path d="M2141 309H2218A2 2 0 0 1 2220 311V331A2 2 0 0 1 2218 333H2141Z" fill="#ca3f64"/>
<text x="2152.20" y="327.60" font-size="17.03" fill="#ffffff" textLength="58.60" lengthAdjust="spacingAndGlyphs" stroke="#ffffff" stroke-width="0.30">0.05741</text>
<text x="2152.00" y="800.70" font-size="17.79" fill="#b6b9c1" textLength="19.50" lengthAdjust="spacingAndGlyphs" stroke="#b6b9c1" stroke-width="0.20">4K</text>
<text x="2152.00" y="846.50" font-size="17.79" fill="#b6b9c1" textLength="19.50" lengthAdjust="spacingAndGlyphs" stroke="#b6b9c1" stroke-width="0.20">3K</text>
<text x="2152.00" y="892.00" font-size="17.79" fill="#b6b9c1" textLength="19.50" lengthAdjust="spacingAndGlyphs" stroke="#b6b9c1" stroke-width="0.20">2K</text>
<text x="2152.00" y="937.40" font-size="17.79" fill="#b6b9c1" textLength="19.50" lengthAdjust="spacingAndGlyphs" stroke="#b6b9c1" stroke-width="0.20">1K</text>
<text x="101.80" y="1004.20" font-size="18.40" fill="#b6b9c1" textLength="9.57" lengthAdjust="spacingAndGlyphs" font-weight="bold" text-anchor="middle">9</text>
<text x="311.80" y="1004.20" font-size="18.40" fill="#b6b9c1" textLength="19.13" lengthAdjust="spacingAndGlyphs" font-weight="bold" text-anchor="middle">11</text>
<text x="521.80" y="1004.20" font-size="18.40" fill="#b6b9c1" textLength="19.13" lengthAdjust="spacingAndGlyphs" font-weight="bold" text-anchor="middle">13</text>
<text x="731.80" y="1004.20" font-size="18.40" fill="#b6b9c1" textLength="19.13" lengthAdjust="spacingAndGlyphs" font-weight="bold" text-anchor="middle">15</text>
<text x="941.80" y="1004.20" font-size="18.40" fill="#b6b9c1" textLength="19.13" lengthAdjust="spacingAndGlyphs" font-weight="bold" text-anchor="middle">17</text>
<text x="1151.80" y="1004.20" font-size="18.40" fill="#b6b9c1" textLength="19.13" lengthAdjust="spacingAndGlyphs" font-weight="bold" text-anchor="middle">19</text>
<text x="1361.80" y="1004.20" font-size="18.40" fill="#b6b9c1" textLength="19.13" lengthAdjust="spacingAndGlyphs" font-weight="bold" text-anchor="middle">21</text>
<text x="1571.80" y="1004.20" font-size="18.40" fill="#b6b9c1" textLength="19.13" lengthAdjust="spacingAndGlyphs" font-weight="bold" text-anchor="middle">23</text>
<text x="1781.80" y="1004.20" font-size="18.40" fill="#b6b9c1" textLength="19.13" lengthAdjust="spacingAndGlyphs" font-weight="bold" text-anchor="middle">25</text>
<text x="1991.80" y="1004.20" font-size="18.40" fill="#b6b9c1" textLength="19.13" lengthAdjust="spacingAndGlyphs" font-weight="bold" text-anchor="middle">27</text>
<path d="M2194.20 997.50L2188.90 1006.68L2178.30 1006.68L2173.00 997.50L2178.30 988.32L2188.90 988.32Z" stroke="#c0c0c0" stroke-width="1.7" fill="none" stroke-linejoin="round"/>
<circle cx="2183.6" cy="997.5" r="3.1" stroke="#c0c0c0" stroke-width="1.7" fill="none"/>
<text x="1906.00" y="1048.20" font-size="18.74" fill="#b4b4b4" textLength="151.00" lengthAdjust="spacingAndGlyphs">08:11:17 (UTC+8)</text>
<rect x="2074.2" y="1029" width="1" height="12" fill="#3a3a3a"/>
<text x="2091.00" y="1048.00" font-size="16.70" fill="#b4b4b4">%</text>
<text x="2127.50" y="1048.00" font-size="16.70" fill="#b4b4b4">log</text>
<text x="2178.00" y="1049.60" font-size="16.7" fill="#3a6df0" textLength="33.4" lengthAdjust="spacingAndGlyphs">自动</text>
<rect x="888.2" y="908.4" width="525" height="63.3" rx="5" fill="#1b1b1b"/>
<text x="910.00" y="949.30" font-size="20.4" fill="#ffffff" stroke="#ffffff" stroke-width="0.24" textLength="378.2" lengthAdjust="spacingAndGlyphs">当您希望放大您鼠标聚焦的点位时，请按住</text><text x="1288.21" y="949.30" font-size="20.40" fill="#ffffff" stroke="#ffffff" stroke-width="0.25" textLength="36.48" lengthAdjust="spacingAndGlyphs">Ctrl </text><text x="1324.68" y="949.30" font-size="20.4" fill="#ffffff" stroke="#ffffff" stroke-width="0.24" textLength="39.8" lengthAdjust="spacingAndGlyphs">键。</text>
<path d="M1382.6 926.2L1396.2 939.8M1396.2 926.2L1382.6 939.8" stroke="#9c9c9c" stroke-width="1.4" fill="none"/>
<rect x="61.5" y="951.5" width="12" height="37" rx="6" fill="#131722" stroke="#2a2e39" stroke-width="1"/>
<path d="M69.3 965.8L65.6 970 69.3 974.2" stroke="#b2b5be" stroke-width="1.6" fill="none"/>
<circle cx="115.6" cy="936.4" r="23.6" fill="#131722" stroke="#3b3f4c" stroke-width="2"/>
<g fill="#fff"><path d="M100.5 929.6H114.8V944.9H107.2V935.3H100.5Z"/><circle cx="117.2" cy="932.4" r="2.4"/><path d="M125.2 929.6H131.8L124.5 944.9H117.6Z"/></g>
<g stroke="#2f6bf2" stroke-width="1.5" fill="none" stroke-linecap="round" stroke-linejoin="round"><path d="M33.4 74.6V85.3M33.4 96.2V106.9M17.2 90.75H28.3M38.6 90.75H50.2"/></g>
<g stroke="#d1d4dc" stroke-width="1.4" fill="none" stroke-linecap="round" stroke-linejoin="round"><circle cx="44.9" cy="128.4" r="3"/><circle cx="20.6" cy="152.7" r="3"/><path d="M22.8 150.5L42.7 130.6"/></g>
<g stroke="#d1d4dc" stroke-width="1.4" fill="none" stroke-linecap="round" stroke-linejoin="round"><path d="M17.2 177.9H48.6M17.2 186.8H44.6M17.2 195.1H48.6M20.9 203.8H48.6"/><circle cx="47.7" cy="186.8" r="3"/><circle cx="17.8" cy="203.8" r="3"/></g>
<g stroke="#d1d4dc" stroke-width="1.4" fill="none" stroke-linecap="round" stroke-linejoin="round"><path d="M16.8 255.4C19.5 250 22 244.5 25.5 241.6C30 238 36.5 241 37.2 246.5C37.8 251.5 33.5 255.4 28.5 255.4Z"/><path d="M51.6 232.6L43.5 240.5C41 243 37 240.5 37.4 237.5C37.6 235.5 39 234 41 233.6"/></g>
<g stroke="#d1d4dc" stroke-width="1.4" fill="none" stroke-linecap="round" stroke-linejoin="round"><path d="M24.7 286V282.2H42.9V286M33.8 282.2V305.8M30 305.8H37.6"/></g>
<g stroke="#d1d4dc" stroke-width="1.4" fill="none" stroke-linecap="round" stroke-linejoin="round"><path d="M21.3 354.2L24.2 335.3M26 335L29.5 340M33.5 340.6L39.8 336M43.2 337L45.7 349.6M44 351L33.4 344M28.8 344.6L22.6 354.8"/><circle cx="24.7" cy="332.4" r="2.9"/><circle cx="42.1" cy="334.2" r="2.9"/><circle cx="30.9" cy="342.3" r="2.9"/><circle cx="20.6" cy="357" r="2.9"/><circle cx="46.5" cy="352.4" r="2.9"/></g>
<g stroke="#d1d4dc" stroke-width="1.4" fill="none" stroke-linecap="round" stroke-linejoin="round"><path d="M22.2 385.6H47.5M22.2 399.5H41.9M22.2 408.2H47.5"/><path d="M25.3 396.5L45.5 387.4" stroke-dasharray="2 3.2"/><circle cx="19.2" cy="385.6" r="3"/><circle cx="19.2" cy="399.5" r="3"/><circle cx="44.9" cy="399.5" r="3"/><circle cx="19.2" cy="408.2" r="3"/></g>
<g stroke="#d1d4dc" stroke-width="1.4" fill="none" stroke-linecap="round" stroke-linejoin="round"><circle cx="33" cy="447.1" r="15.2"/><path d="M28.4 450.7C30 455.8 36 455.8 37.6 450.7"/></g>
<circle cx="29.4" cy="444.4" r="1.5" fill="#d1d4dc"/><circle cx="36.5" cy="444.4" r="1.5" fill="#d1d4dc"/>
<rect x="8" y="481.0" width="50.3" height="1.5" fill="#3a3e4a"/>
<rect x="8" y="601.5" width="50.3" height="1.5" fill="#3a3e4a"/>
<rect x="8" y="822.9" width="50.3" height="1.5" fill="#3a3e4a"/>
<g stroke="#d1d4dc" stroke-width="1.4" fill="none" stroke-linecap="round" stroke-linejoin="round"><g transform="translate(33.1 517) rotate(-43.5)"><rect x="-17.8" y="-5.2" width="35.6" height="10.4" rx="1.2"/><path d="M-12 -5.2V-1.4M-6 -5.2V-2.4M0 -5.2V-1.4M6 -5.2V-2.4M12 -5.2V-1.4"/></g></g>
<g stroke="#d1d4dc" stroke-width="1.4" fill="none" stroke-linecap="round" stroke-linejoin="round"><circle cx="30.8" cy="565" r="11.5"/><path d="M39.2 573.4L44.3 578.8M26.3 565H35.3M30.8 560.5V569.5"/></g>
<g stroke="#d1d4dc" stroke-width="1.4" fill="none" stroke-linecap="round" stroke-linejoin="round"><path d="M21.8 648.6V634.2A11.35 11.5 0 0 1 44.5 634.2V648.6H37.6V634.6A4.65 4.6 0 0 0 28.3 634.6V648.6ZM21.8 642.9H28.3M37.6 642.9H44.5"/></g>
<g stroke="#d1d4dc" stroke-width="1.4" fill="none" stroke-linecap="round" stroke-linejoin="round"><g transform="translate(28.9 683.9) rotate(-36.4)"><path d="M-14.6 0L-8.4 -3.1H13A1.6 1.6 0 0 1 14.6 -1.5V1.5A1.6 1.6 0 0 1 13 3.1H-8.4ZM-8.4 -3.1V3.1M10.4 -3.1V3.1"/></g><rect x="34.6" y="692.6" width="12.8" height="8.6" rx="1.2"/><path d="M37.6 692.6V689.4A3.2 3.2 0 0 1 43.8 688.4"/><path d="M41 696V697.8"/></g>
<g stroke="#d1d4dc" stroke-width="1.4" fill="none" stroke-linecap="round" stroke-linejoin="round"><rect x="21.8" y="736.5" width="22.3" height="15.5" rx="2.2"/><path d="M27.2 736.5V732A5.7 5.7 0 0 1 38.4 730.6"/><path d="M33 742.4V745" stroke-width="2.2"/></g>
<g stroke="#d1d4dc" stroke-width="1.4" fill="none" stroke-linecap="round" stroke-linejoin="round"><path d="M18.2 783.8C22.5 777.6 27 774.4 31.5 774.4S40.6 777.6 44.9 783.8C40.6 790.2 36 793.4 31.5 793.4S22.5 790.2 18.2 783.8Z"/><circle cx="31.4" cy="783.8" r="4.6"/><path d="M33.4 805.2C34.4 802.6 35.8 800.2 38 799.8C40.4 799.5 41.6 801.9 40.4 803.6C39.5 804.9 37.8 805.3 36 805.3ZM48.6 796.6L44.6 800.5C43.3 801.6 41.5 800.6 41.8 799.1C41.9 798.3 42.6 797.6 43.5 797.5" stroke-width="1.4"/></g>
<g stroke="#d1d4dc" stroke-width="1.4" fill="none" stroke-linecap="round" stroke-linejoin="round"><path d="M20.2 850.8H45.5M27.9 850.8V847.6A1.5 1.5 0 0 1 29.4 846.1H36.9A1.5 1.5 0 0 1 38.4 847.6V850.8M22.8 850.8V869.4A2.4 2.4 0 0 0 25.2 871.8H40.7A2.4 2.4 0 0 0 43.1 869.4V850.8M29.9 856.4V866.2M36.4 856.4V866.2"/></g>
</svg>
</body></html>
